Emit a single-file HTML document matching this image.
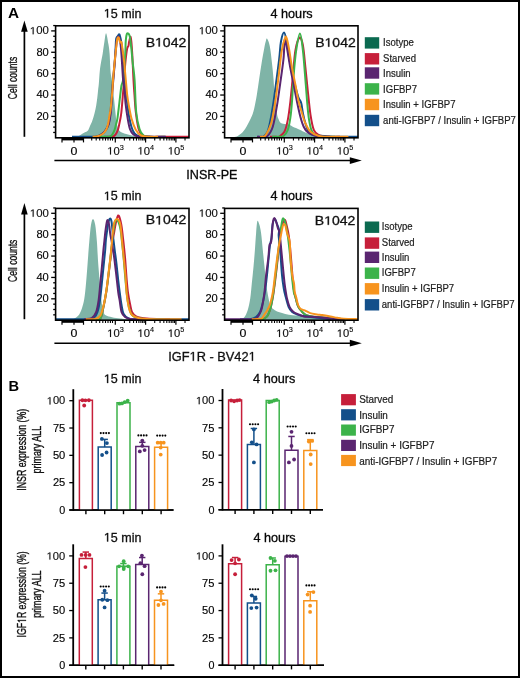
<!DOCTYPE html>
<html><head><meta charset="utf-8"><style>
html,body{margin:0;padding:0;background:#fff;}
svg{display:block;font-family:"Liberation Sans", sans-serif;will-change:transform;}
</style></head><body>
<svg width="520" height="678" viewBox="0 0 520 678">
<rect width="520" height="678" fill="#fff"/>
<rect x="1" y="1" width="518" height="676" fill="none" stroke="#000" stroke-width="2"/>
<text x="8.00" y="17.70" font-size="15.3" text-anchor="start" font-weight="bold" fill="#000">A</text>
<text x="8.60" y="390.80" font-size="15.3" text-anchor="start" font-weight="bold" fill="#000" textLength="10.6" lengthAdjust="spacingAndGlyphs">B</text>
<clipPath id="clip0"><rect x="55.6" y="25.8" width="133.4" height="112.00000000000001"/></clipPath>
<g clip-path="url(#clip0)">
<path d="M74.00,137.80 C74.87,137.47 77.82,136.47 79.20,135.80 C80.58,135.13 81.33,134.38 82.30,133.80 C83.27,133.22 84.10,132.80 85.00,132.30 C85.90,131.80 86.93,131.70 87.70,130.80 C88.47,129.90 88.83,128.57 89.60,126.90 C90.37,125.23 91.47,123.10 92.30,120.80 C93.13,118.50 93.95,115.67 94.60,113.10 C95.25,110.53 95.75,107.97 96.20,105.40 C96.65,102.83 96.98,100.27 97.30,97.70 C97.62,95.13 97.85,92.28 98.10,90.00 C98.35,87.72 98.52,87.17 98.80,84.00 C99.08,80.83 99.43,74.57 99.80,71.00 C100.17,67.43 100.52,65.53 101.00,62.60 C101.48,59.67 102.13,56.87 102.70,53.40 C103.27,49.93 103.83,45.17 104.40,41.80 C104.97,38.43 105.43,32.82 106.10,33.20 C106.77,33.58 107.82,40.73 108.40,44.10 C108.98,47.47 109.30,49.75 109.60,53.40 C109.90,57.05 110.00,62.55 110.20,66.00 C110.40,69.45 110.52,71.77 110.80,74.10 C111.08,76.43 111.58,77.68 111.90,80.00 C112.22,82.32 112.35,84.92 112.70,88.00 C113.05,91.08 113.55,94.50 114.00,98.50 C114.45,102.50 114.95,107.97 115.40,112.00 C115.85,116.03 116.03,119.57 116.70,122.70 C117.37,125.83 117.83,128.90 119.40,130.80 C120.97,132.70 123.63,133.25 126.10,134.10 C128.57,134.95 131.05,135.42 134.20,135.90 C137.35,136.38 140.70,136.72 145.00,137.00 C149.30,137.28 152.67,137.47 160.00,137.60 C167.33,137.73 184.17,137.77 189.00,137.80 L189.00,137.80 L74.00,137.80 Z" fill="#7fb4a7" stroke="none"/>
<path d="M104.00,136.80 C104.67,136.80 106.55,136.83 108.00,136.80 C109.45,136.77 111.45,136.97 112.70,136.60 C113.95,136.23 114.62,135.78 115.50,134.60 C116.38,133.42 117.25,131.85 118.00,129.50 C118.75,127.15 119.43,123.42 120.00,120.50 C120.57,117.58 120.85,117.08 121.40,112.00 C121.95,106.92 122.83,95.33 123.30,90.00 C123.77,84.67 123.92,83.92 124.20,80.00 C124.48,76.08 124.67,70.68 125.00,66.50 C125.33,62.32 125.82,57.98 126.20,54.90 C126.58,51.82 126.92,49.53 127.30,48.00 C127.68,46.47 128.20,46.73 128.50,45.70 C128.80,44.67 128.75,43.28 129.10,41.80 C129.45,40.32 130.20,36.53 130.60,36.80 C131.00,37.07 131.22,40.38 131.50,43.40 C131.78,46.42 131.97,48.80 132.30,54.90 C132.63,61.00 133.13,73.32 133.50,80.00 C133.87,86.68 134.12,89.67 134.50,95.00 C134.88,100.33 135.13,106.42 135.80,112.00 C136.47,117.58 137.38,124.63 138.50,128.50 C139.62,132.37 140.58,133.82 142.50,135.20 C144.42,136.58 146.25,136.53 150.00,136.80 C153.75,137.07 158.50,136.80 165.00,136.80 C171.50,136.80 185.00,136.80 189.00,136.80" fill="none" stroke="#c61f3a" stroke-width="2.0" stroke-linejoin="round"/>
<path d="M100.00,136.80 C100.83,136.80 103.33,136.85 105.00,136.80 C106.67,136.75 108.80,136.83 110.00,136.50 C111.20,136.17 111.45,135.85 112.20,134.80 C112.95,133.75 113.87,131.93 114.50,130.20 C115.13,128.47 115.52,126.33 116.00,124.40 C116.48,122.47 116.83,122.25 117.40,118.60 C117.97,114.95 118.73,107.93 119.40,102.50 C120.07,97.07 120.78,89.75 121.40,86.00 C122.02,82.25 122.57,83.90 123.10,80.00 C123.63,76.10 124.22,67.42 124.60,62.60 C124.98,57.78 125.20,54.82 125.40,51.10 C125.60,47.38 125.52,43.23 125.80,40.30 C126.08,37.37 126.47,34.27 127.10,33.50 C127.73,32.73 128.92,33.42 129.60,35.70 C130.28,37.98 130.68,42.72 131.20,47.20 C131.72,51.68 132.13,57.13 132.70,62.60 C133.27,68.07 134.02,71.77 134.60,80.00 C135.18,88.23 135.37,103.77 136.20,112.00 C137.03,120.23 138.37,125.48 139.60,129.40 C140.83,133.32 141.87,134.27 143.60,135.50 C145.33,136.73 146.43,136.58 150.00,136.80 C153.57,137.02 162.50,136.80 165.00,136.80" fill="none" stroke="#3cb34a" stroke-width="2.0" stroke-linejoin="round"/>
<path d="M72.00,136.80 C74.67,136.80 84.00,136.83 88.00,136.80 C92.00,136.77 93.83,136.98 96.00,136.60 C98.17,136.22 99.50,135.43 101.00,134.50 C102.50,133.57 103.75,132.75 105.00,131.00 C106.25,129.25 107.58,127.17 108.50,124.00 C109.42,120.83 109.87,118.00 110.50,112.00 C111.13,106.00 111.85,93.67 112.30,88.00 C112.75,82.33 112.80,82.33 113.20,78.00 C113.60,73.67 114.30,67.00 114.70,62.00 C115.10,57.00 115.35,51.87 115.60,48.00 C115.85,44.13 115.83,40.80 116.20,38.80 C116.57,36.80 117.27,36.72 117.80,36.00 C118.33,35.28 118.90,33.92 119.40,34.50 C119.90,35.08 120.40,37.58 120.80,39.50 C121.20,41.42 121.40,42.92 121.80,46.00 C122.20,49.08 122.75,53.67 123.20,58.00 C123.65,62.33 124.10,67.00 124.50,72.00 C124.90,77.00 125.18,83.00 125.60,88.00 C126.02,93.00 126.43,97.33 127.00,102.00 C127.57,106.67 128.25,111.83 129.00,116.00 C129.75,120.17 130.58,124.08 131.50,127.00 C132.42,129.92 133.25,131.95 134.50,133.50 C135.75,135.05 136.75,135.75 139.00,136.30 C141.25,136.85 146.17,136.72 148.00,136.80 C149.83,136.88 149.67,136.80 150.00,136.80" fill="none" stroke="#134f8a" stroke-width="2.0" stroke-linejoin="round"/>
<path d="M93.00,136.80 C93.67,136.80 95.50,137.27 97.00,136.80 C98.50,136.33 100.58,135.05 102.00,134.00 C103.42,132.95 104.37,132.17 105.50,130.50 C106.63,128.83 107.92,127.08 108.80,124.00 C109.68,120.92 110.17,118.00 110.80,112.00 C111.43,106.00 112.15,93.67 112.60,88.00 C113.05,82.33 113.13,82.33 113.50,78.00 C113.87,73.67 114.38,67.00 114.80,62.00 C115.22,57.00 115.63,51.67 116.00,48.00 C116.37,44.33 116.57,41.92 117.00,40.00 C117.43,38.08 118.03,35.93 118.60,36.50 C119.17,37.07 119.92,40.33 120.40,43.40 C120.88,46.47 121.05,48.80 121.50,54.90 C121.95,61.00 122.60,74.15 123.10,80.00 C123.60,85.85 124.08,86.00 124.50,90.00 C124.92,94.00 125.07,99.23 125.60,104.00 C126.13,108.77 126.97,114.40 127.70,118.60 C128.43,122.80 129.03,126.53 130.00,129.20 C130.97,131.87 132.17,133.37 133.50,134.60 C134.83,135.83 136.08,136.23 138.00,136.60 C139.92,136.97 141.33,136.77 145.00,136.80 C148.67,136.83 156.50,136.80 160.00,136.80 C163.50,136.80 165.00,136.80 166.00,136.80" fill="none" stroke="#5a2570" stroke-width="2.0" stroke-linejoin="round"/>
<path d="M92.60,136.80 C93.00,136.80 93.85,136.98 95.00,136.80 C96.15,136.62 98.07,136.32 99.50,135.70 C100.93,135.08 102.43,134.22 103.60,133.10 C104.77,131.98 105.73,130.63 106.50,129.00 C107.27,127.37 107.72,125.50 108.20,123.30 C108.68,121.10 109.02,118.02 109.40,115.80 C109.78,113.58 110.17,112.47 110.50,110.00 C110.83,107.53 111.10,104.00 111.40,101.00 C111.70,98.00 112.02,95.70 112.30,92.00 C112.58,88.30 112.72,83.70 113.10,78.80 C113.48,73.90 114.08,67.87 114.60,62.60 C115.12,57.33 115.75,51.17 116.20,47.20 C116.65,43.23 116.87,40.40 117.30,38.80 C117.73,37.20 118.35,37.03 118.80,37.60 C119.25,38.17 119.55,41.43 120.00,42.20 C120.45,42.97 121.05,40.72 121.50,42.20 C121.95,43.68 122.25,47.70 122.70,51.10 C123.15,54.50 123.68,57.78 124.20,62.60 C124.72,67.42 125.30,74.60 125.80,80.00 C126.30,85.40 126.70,90.80 127.20,95.00 C127.70,99.20 128.08,101.27 128.80,105.20 C129.52,109.13 130.37,114.57 131.50,118.60 C132.63,122.63 134.02,126.58 135.60,129.40 C137.18,132.22 138.60,134.27 141.00,135.50 C143.40,136.73 147.17,136.58 150.00,136.80 C152.83,137.02 156.67,136.80 158.00,136.80" fill="none" stroke="#f7941e" stroke-width="2.0" stroke-linejoin="round"/>
</g>
<rect x="55.60" y="25.80" width="133.40" height="112.00" fill="none" stroke="#000" stroke-width="1.6"/>
<line x1="53.20" y1="132.46" x2="55.60" y2="132.46" stroke="#000" stroke-width="1.3"/>
<line x1="53.20" y1="127.11" x2="55.60" y2="127.11" stroke="#000" stroke-width="1.3"/>
<line x1="53.20" y1="121.77" x2="55.60" y2="121.77" stroke="#000" stroke-width="1.3"/>
<line x1="51.20" y1="116.42" x2="55.60" y2="116.42" stroke="#000" stroke-width="1.3"/>
<text x="48.80" y="119.82" font-size="10.3" text-anchor="end" stroke="#111" stroke-width="0.15" textLength="12.4" lengthAdjust="spacingAndGlyphs">20</text>
<line x1="53.20" y1="111.08" x2="55.60" y2="111.08" stroke="#000" stroke-width="1.3"/>
<line x1="53.20" y1="105.73" x2="55.60" y2="105.73" stroke="#000" stroke-width="1.3"/>
<line x1="53.20" y1="100.39" x2="55.60" y2="100.39" stroke="#000" stroke-width="1.3"/>
<line x1="51.20" y1="95.04" x2="55.60" y2="95.04" stroke="#000" stroke-width="1.3"/>
<text x="48.80" y="98.44" font-size="10.3" text-anchor="end" stroke="#111" stroke-width="0.15" textLength="12.4" lengthAdjust="spacingAndGlyphs">40</text>
<line x1="53.20" y1="89.70" x2="55.60" y2="89.70" stroke="#000" stroke-width="1.3"/>
<line x1="53.20" y1="84.35" x2="55.60" y2="84.35" stroke="#000" stroke-width="1.3"/>
<line x1="53.20" y1="79.01" x2="55.60" y2="79.01" stroke="#000" stroke-width="1.3"/>
<line x1="51.20" y1="73.66" x2="55.60" y2="73.66" stroke="#000" stroke-width="1.3"/>
<text x="48.80" y="77.06" font-size="10.3" text-anchor="end" stroke="#111" stroke-width="0.15" textLength="12.4" lengthAdjust="spacingAndGlyphs">60</text>
<line x1="53.20" y1="68.32" x2="55.60" y2="68.32" stroke="#000" stroke-width="1.3"/>
<line x1="53.20" y1="62.97" x2="55.60" y2="62.97" stroke="#000" stroke-width="1.3"/>
<line x1="53.20" y1="57.63" x2="55.60" y2="57.63" stroke="#000" stroke-width="1.3"/>
<line x1="51.20" y1="52.28" x2="55.60" y2="52.28" stroke="#000" stroke-width="1.3"/>
<text x="48.80" y="55.68" font-size="10.3" text-anchor="end" stroke="#111" stroke-width="0.15" textLength="12.4" lengthAdjust="spacingAndGlyphs">80</text>
<line x1="53.20" y1="46.94" x2="55.60" y2="46.94" stroke="#000" stroke-width="1.3"/>
<line x1="53.20" y1="41.59" x2="55.60" y2="41.59" stroke="#000" stroke-width="1.3"/>
<line x1="53.20" y1="36.25" x2="55.60" y2="36.25" stroke="#000" stroke-width="1.3"/>
<line x1="51.20" y1="30.90" x2="55.60" y2="30.90" stroke="#000" stroke-width="1.3"/>
<g transform="translate(29.80,34.30) scale(1.1056,1)" fill="#111" stroke="#111" stroke-width="0.15"><path transform="translate(0.00,0) scale(0.00503,-0.00503)" d="M515,0H696V1409H530L197,1180V1010L515,1237Z" stroke-width="29.8"/><text x="5.73" y="0" font-size="10.3">00</text></g>
<line x1="53.20" y1="25.56" x2="55.60" y2="25.56" stroke="#000" stroke-width="1.3"/>
<rect x="62.00" y="137.80" width="22.00" height="2.60" fill="#000"/>
<line x1="62.00" y1="137.80" x2="62.00" y2="142.40" stroke="#000" stroke-width="1.2"/>
<line x1="74.00" y1="137.80" x2="74.00" y2="142.40" stroke="#000" stroke-width="1.2"/>
<line x1="83.50" y1="137.80" x2="83.50" y2="142.40" stroke="#000" stroke-width="1.2"/>
<line x1="91.70" y1="137.80" x2="91.70" y2="140.60" stroke="#000" stroke-width="1.1"/>
<line x1="96.20" y1="137.80" x2="96.20" y2="140.60" stroke="#000" stroke-width="1.1"/>
<line x1="99.70" y1="137.80" x2="99.70" y2="140.60" stroke="#000" stroke-width="1.1"/>
<line x1="102.80" y1="137.80" x2="102.80" y2="140.60" stroke="#000" stroke-width="1.1"/>
<line x1="105.50" y1="137.80" x2="105.50" y2="140.60" stroke="#000" stroke-width="1.1"/>
<line x1="108.00" y1="137.80" x2="108.00" y2="140.60" stroke="#000" stroke-width="1.1"/>
<line x1="110.40" y1="137.80" x2="110.40" y2="140.60" stroke="#000" stroke-width="1.1"/>
<line x1="112.50" y1="137.80" x2="112.50" y2="140.60" stroke="#000" stroke-width="1.1"/>
<line x1="115.30" y1="137.80" x2="115.30" y2="142.40" stroke="#000" stroke-width="1.2"/>
<line x1="124.42" y1="137.80" x2="124.42" y2="140.60" stroke="#000" stroke-width="1.1"/>
<line x1="129.76" y1="137.80" x2="129.76" y2="140.60" stroke="#000" stroke-width="1.1"/>
<line x1="133.54" y1="137.80" x2="133.54" y2="140.60" stroke="#000" stroke-width="1.1"/>
<line x1="136.48" y1="137.80" x2="136.48" y2="140.60" stroke="#000" stroke-width="1.1"/>
<line x1="138.88" y1="137.80" x2="138.88" y2="140.60" stroke="#000" stroke-width="1.1"/>
<line x1="140.91" y1="137.80" x2="140.91" y2="140.60" stroke="#000" stroke-width="1.1"/>
<line x1="142.66" y1="137.80" x2="142.66" y2="140.60" stroke="#000" stroke-width="1.1"/>
<line x1="144.21" y1="137.80" x2="144.21" y2="140.60" stroke="#000" stroke-width="1.1"/>
<line x1="145.60" y1="137.80" x2="145.60" y2="142.40" stroke="#000" stroke-width="1.2"/>
<line x1="154.72" y1="137.80" x2="154.72" y2="140.60" stroke="#000" stroke-width="1.1"/>
<line x1="160.06" y1="137.80" x2="160.06" y2="140.60" stroke="#000" stroke-width="1.1"/>
<line x1="163.84" y1="137.80" x2="163.84" y2="140.60" stroke="#000" stroke-width="1.1"/>
<line x1="166.78" y1="137.80" x2="166.78" y2="140.60" stroke="#000" stroke-width="1.1"/>
<line x1="169.18" y1="137.80" x2="169.18" y2="140.60" stroke="#000" stroke-width="1.1"/>
<line x1="171.21" y1="137.80" x2="171.21" y2="140.60" stroke="#000" stroke-width="1.1"/>
<line x1="172.96" y1="137.80" x2="172.96" y2="140.60" stroke="#000" stroke-width="1.1"/>
<line x1="174.51" y1="137.80" x2="174.51" y2="140.60" stroke="#000" stroke-width="1.1"/>
<line x1="175.90" y1="137.80" x2="175.90" y2="142.40" stroke="#000" stroke-width="1.2"/>
<line x1="185.02" y1="137.80" x2="185.02" y2="140.60" stroke="#000" stroke-width="1.1"/>
<text x="73.90" y="155.00" font-size="10.4" text-anchor="middle" stroke="#111" stroke-width="0.15" textLength="6.9" lengthAdjust="spacingAndGlyphs">0</text>
<g transform="translate(107.20,154.50) scale(1.0602,1)" fill="#111" stroke="#111" stroke-width="0.15"><path transform="translate(0.00,0) scale(0.00518,-0.00518)" d="M515,0H696V1409H530L197,1180V1010L515,1237Z" stroke-width="29.0"/><text x="5.90" y="0" font-size="10.6">0</text></g>
<text x="119.70" y="149.80" font-size="7.3" stroke="#111" stroke-width="0.1">3</text>
<g transform="translate(137.50,154.50) scale(1.0602,1)" fill="#111" stroke="#111" stroke-width="0.15"><path transform="translate(0.00,0) scale(0.00518,-0.00518)" d="M515,0H696V1409H530L197,1180V1010L515,1237Z" stroke-width="29.0"/><text x="5.90" y="0" font-size="10.6">0</text></g>
<text x="150.00" y="149.80" font-size="7.3" stroke="#111" stroke-width="0.1">4</text>
<g transform="translate(167.80,154.50) scale(1.0602,1)" fill="#111" stroke="#111" stroke-width="0.15"><path transform="translate(0.00,0) scale(0.00518,-0.00518)" d="M515,0H696V1409H530L197,1180V1010L515,1237Z" stroke-width="29.0"/><text x="5.90" y="0" font-size="10.6">0</text></g>
<text x="180.30" y="149.80" font-size="7.3" stroke="#111" stroke-width="0.1">5</text>
<g transform="translate(103.80,17.50) scale(1.0268,1)" fill="#111" stroke="#111" stroke-width="0.3"><path transform="translate(0.00,0) scale(0.00596,-0.00596)" d="M515,0H696V1409H530L197,1180V1010L515,1237Z" stroke-width="50.4"/><text x="6.79" y="0" font-size="12.2">5 min</text></g>
<g transform="translate(145.70,46.50) scale(1.1509,1)" fill="#111" stroke="#111" stroke-width="0.3"><text x="0.00" y="0" font-size="12.2">B</text><path transform="translate(8.14,0) scale(0.00596,-0.00596)" d="M515,0H696V1409H530L197,1180V1010L515,1237Z" stroke-width="50.4"/><text x="14.92" y="0" font-size="12.2">042</text></g>
<line x1="24.40" y1="136.80" x2="24.40" y2="29.80" stroke="#000" stroke-width="1.7"/>
<path d="M21.10,31.80 L24.40,20.40 L27.70,31.80 Z" fill="#000"/>
<text transform="translate(17.3,78.00) rotate(-90)" font-size="12.4" text-anchor="middle" textLength="42.4" lengthAdjust="spacingAndGlyphs" fill="#111" stroke="#111" stroke-width="0.3">Cell counts</text>
<clipPath id="clip1"><rect x="224.6" y="25.8" width="133.4" height="112.00000000000001"/></clipPath>
<g clip-path="url(#clip1)">
<path d="M226.00,137.80 C227.17,137.72 230.98,137.63 233.00,137.30 C235.02,136.97 236.30,136.88 238.10,135.80 C239.90,134.72 241.90,133.27 243.80,130.80 C245.70,128.33 247.88,124.27 249.50,121.00 C251.12,117.73 252.28,115.55 253.50,111.20 C254.72,106.85 255.85,100.32 256.80,94.90 C257.75,89.48 258.38,84.10 259.20,78.70 C260.02,73.30 260.85,67.62 261.70,62.50 C262.55,57.38 263.65,51.42 264.30,48.00 C264.95,44.58 265.15,43.57 265.60,42.00 C266.05,40.43 266.30,37.90 267.00,38.60 C267.70,39.30 268.98,42.22 269.80,46.20 C270.62,50.18 271.28,57.08 271.90,62.50 C272.52,67.92 273.05,73.30 273.50,78.70 C273.95,84.10 274.13,90.03 274.60,94.90 C275.07,99.77 275.88,104.65 276.30,107.90 C276.72,111.15 276.77,112.63 277.10,114.40 C277.43,116.17 277.77,117.15 278.30,118.50 C278.83,119.85 279.52,121.62 280.30,122.50 C281.08,123.38 281.48,123.42 283.00,123.80 C284.52,124.18 287.77,124.32 289.40,124.80 C291.03,125.28 291.70,126.17 292.80,126.70 C293.90,127.23 294.75,127.43 296.00,128.00 C297.25,128.57 298.73,129.33 300.30,130.10 C301.87,130.87 303.13,131.75 305.40,132.60 C307.67,133.45 310.80,134.55 313.90,135.20 C317.00,135.85 319.65,136.13 324.00,136.50 C328.35,136.87 334.33,137.18 340.00,137.40 C345.67,137.62 355.00,137.73 358.00,137.80 L358.00,137.80 L226.00,137.80 Z" fill="#7fb4a7" stroke="none"/>
<path d="M270.00,136.80 C271.00,136.80 274.45,136.85 276.00,136.80 C277.55,136.75 277.90,137.33 279.30,136.50 C280.70,135.67 282.98,134.57 284.40,131.80 C285.82,129.03 286.80,124.98 287.80,119.90 C288.80,114.82 289.55,108.65 290.40,101.30 C291.25,93.95 292.07,84.28 292.90,75.80 C293.73,67.32 294.28,56.75 295.40,50.40 C296.52,44.05 298.35,38.55 299.60,37.70 C300.85,36.85 301.93,40.35 302.90,45.30 C303.87,50.25 304.55,59.48 305.40,67.40 C306.25,75.32 307.15,84.90 308.00,92.80 C308.85,100.70 309.52,108.58 310.50,114.80 C311.48,121.02 312.48,126.70 313.90,130.10 C315.32,133.50 316.65,134.08 319.00,135.20 C321.35,136.32 324.50,136.53 328.00,136.80 C331.50,137.07 338.00,136.80 340.00,136.80" fill="none" stroke="#c61f3a" stroke-width="2.0" stroke-linejoin="round"/>
<path d="M272.00,136.80 C273.00,136.80 276.08,136.93 278.00,136.80 C279.92,136.67 281.88,137.12 283.50,136.00 C285.12,134.88 286.57,133.07 287.70,130.10 C288.83,127.13 289.58,123.00 290.30,118.20 C291.02,113.40 291.45,108.37 292.00,101.30 C292.55,94.23 292.90,84.28 293.60,75.80 C294.30,67.32 295.13,57.45 296.20,50.40 C297.27,43.35 298.88,33.50 300.00,33.50 C301.12,33.50 302.05,43.35 302.90,50.40 C303.75,57.45 304.40,67.32 305.10,75.80 C305.80,84.28 306.48,94.23 307.10,101.30 C307.72,108.37 308.08,113.40 308.80,118.20 C309.52,123.00 310.27,127.27 311.40,130.10 C312.53,132.93 313.50,134.08 315.60,135.20 C317.70,136.32 320.77,136.53 324.00,136.80 C327.23,137.07 333.17,136.80 335.00,136.80" fill="none" stroke="#3cb34a" stroke-width="2.0" stroke-linejoin="round"/>
<path d="M258.00,136.80 C258.07,136.80 257.56,136.80 258.42,136.80 C259.28,136.80 261.62,137.63 263.14,136.80 C264.65,135.97 266.28,134.62 267.51,131.80 C268.74,128.98 269.48,124.98 270.50,119.90 C271.52,114.82 272.72,107.23 273.62,101.30 C274.52,95.37 274.96,91.37 275.89,84.30 C276.82,77.23 278.37,65.95 279.20,58.90 C280.03,51.85 280.10,46.38 280.90,42.00 C281.70,37.62 283.02,32.60 284.00,32.60 C284.98,32.60 285.92,37.62 286.80,42.00 C287.68,46.38 288.32,53.27 289.30,58.90 C290.28,64.53 291.57,70.72 292.70,75.80 C293.83,80.88 295.12,85.72 296.10,89.40 C297.08,93.08 297.75,95.63 298.60,97.90 C299.45,100.17 300.48,100.47 301.20,103.00 C301.92,105.53 302.20,109.72 302.90,113.10 C303.60,116.48 304.42,120.18 305.40,123.30 C306.38,126.42 307.38,129.82 308.80,131.80 C310.22,133.78 311.37,134.50 313.90,135.20 C316.43,135.90 319.77,135.73 324.00,136.00 C328.23,136.27 333.63,136.67 339.30,136.80 C344.97,136.93 354.88,136.80 358.00,136.80" fill="none" stroke="#134f8a" stroke-width="2.0" stroke-linejoin="round"/>
<path d="M257.00,136.80 C257.17,136.80 257.26,136.80 258.00,136.80 C258.74,136.80 259.87,136.93 261.43,136.80 C262.99,136.67 265.48,137.68 267.37,136.00 C269.26,134.32 271.20,131.63 272.78,126.70 C274.36,121.77 275.63,113.47 276.85,106.40 C278.07,99.33 278.98,92.22 280.09,84.30 C281.20,76.38 282.73,66.28 283.50,58.90 C284.27,51.52 284.15,41.98 284.70,40.00 C285.25,38.02 285.88,42.43 286.80,47.00 C287.72,51.57 289.07,61.18 290.20,67.40 C291.33,73.62 292.48,78.65 293.60,84.30 C294.72,89.95 295.78,95.93 296.90,101.30 C298.02,106.67 299.17,112.27 300.30,116.50 C301.43,120.73 302.42,124.02 303.70,126.70 C304.98,129.38 306.30,131.18 308.00,132.60 C309.70,134.02 311.57,134.52 313.90,135.20 C316.23,135.88 319.32,136.43 322.00,136.70 C324.68,136.97 328.67,136.78 330.00,136.80" fill="none" stroke="#5a2570" stroke-width="2.0" stroke-linejoin="round"/>
<path d="M260.00,136.80 C260.38,136.80 261.35,137.07 262.30,136.80 C263.25,136.53 264.21,137.45 265.69,135.20 C267.17,132.95 269.58,128.95 271.19,123.30 C272.80,117.65 274.07,109.22 275.32,101.30 C276.57,93.38 277.59,84.28 278.67,75.80 C279.75,67.32 280.71,56.75 281.80,50.40 C282.89,44.05 284.37,39.67 285.20,37.70 C286.03,35.73 286.12,36.48 286.80,38.60 C287.48,40.72 288.45,45.60 289.30,50.40 C290.15,55.20 290.90,61.75 291.90,67.40 C292.90,73.05 294.18,78.65 295.30,84.30 C296.42,89.95 297.48,96.50 298.60,101.30 C299.72,106.10 300.87,109.43 302.00,113.10 C303.13,116.77 303.98,120.18 305.40,123.30 C306.82,126.42 308.23,129.68 310.50,131.80 C312.77,133.92 315.62,135.17 319.00,136.00 C322.38,136.83 326.28,136.67 330.80,136.80 C335.32,136.93 343.40,136.80 346.10,136.80 C348.80,136.80 346.85,136.80 347.00,136.80" fill="none" stroke="#f7941e" stroke-width="2.0" stroke-linejoin="round"/>
</g>
<rect x="224.60" y="25.80" width="133.40" height="112.00" fill="none" stroke="#000" stroke-width="1.6"/>
<line x1="222.20" y1="132.46" x2="224.60" y2="132.46" stroke="#000" stroke-width="1.3"/>
<line x1="222.20" y1="127.11" x2="224.60" y2="127.11" stroke="#000" stroke-width="1.3"/>
<line x1="222.20" y1="121.77" x2="224.60" y2="121.77" stroke="#000" stroke-width="1.3"/>
<line x1="220.20" y1="116.42" x2="224.60" y2="116.42" stroke="#000" stroke-width="1.3"/>
<text x="217.80" y="119.82" font-size="10.3" text-anchor="end" stroke="#111" stroke-width="0.15" textLength="12.4" lengthAdjust="spacingAndGlyphs">20</text>
<line x1="222.20" y1="111.08" x2="224.60" y2="111.08" stroke="#000" stroke-width="1.3"/>
<line x1="222.20" y1="105.73" x2="224.60" y2="105.73" stroke="#000" stroke-width="1.3"/>
<line x1="222.20" y1="100.39" x2="224.60" y2="100.39" stroke="#000" stroke-width="1.3"/>
<line x1="220.20" y1="95.04" x2="224.60" y2="95.04" stroke="#000" stroke-width="1.3"/>
<text x="217.80" y="98.44" font-size="10.3" text-anchor="end" stroke="#111" stroke-width="0.15" textLength="12.4" lengthAdjust="spacingAndGlyphs">40</text>
<line x1="222.20" y1="89.70" x2="224.60" y2="89.70" stroke="#000" stroke-width="1.3"/>
<line x1="222.20" y1="84.35" x2="224.60" y2="84.35" stroke="#000" stroke-width="1.3"/>
<line x1="222.20" y1="79.01" x2="224.60" y2="79.01" stroke="#000" stroke-width="1.3"/>
<line x1="220.20" y1="73.66" x2="224.60" y2="73.66" stroke="#000" stroke-width="1.3"/>
<text x="217.80" y="77.06" font-size="10.3" text-anchor="end" stroke="#111" stroke-width="0.15" textLength="12.4" lengthAdjust="spacingAndGlyphs">60</text>
<line x1="222.20" y1="68.32" x2="224.60" y2="68.32" stroke="#000" stroke-width="1.3"/>
<line x1="222.20" y1="62.97" x2="224.60" y2="62.97" stroke="#000" stroke-width="1.3"/>
<line x1="222.20" y1="57.63" x2="224.60" y2="57.63" stroke="#000" stroke-width="1.3"/>
<line x1="220.20" y1="52.28" x2="224.60" y2="52.28" stroke="#000" stroke-width="1.3"/>
<text x="217.80" y="55.68" font-size="10.3" text-anchor="end" stroke="#111" stroke-width="0.15" textLength="12.4" lengthAdjust="spacingAndGlyphs">80</text>
<line x1="222.20" y1="46.94" x2="224.60" y2="46.94" stroke="#000" stroke-width="1.3"/>
<line x1="222.20" y1="41.59" x2="224.60" y2="41.59" stroke="#000" stroke-width="1.3"/>
<line x1="222.20" y1="36.25" x2="224.60" y2="36.25" stroke="#000" stroke-width="1.3"/>
<line x1="220.20" y1="30.90" x2="224.60" y2="30.90" stroke="#000" stroke-width="1.3"/>
<g transform="translate(198.80,34.30) scale(1.1056,1)" fill="#111" stroke="#111" stroke-width="0.15"><path transform="translate(0.00,0) scale(0.00503,-0.00503)" d="M515,0H696V1409H530L197,1180V1010L515,1237Z" stroke-width="29.8"/><text x="5.73" y="0" font-size="10.3">00</text></g>
<line x1="222.20" y1="25.56" x2="224.60" y2="25.56" stroke="#000" stroke-width="1.3"/>
<rect x="231.00" y="137.80" width="22.00" height="2.60" fill="#000"/>
<line x1="231.00" y1="137.80" x2="231.00" y2="142.40" stroke="#000" stroke-width="1.2"/>
<line x1="243.00" y1="137.80" x2="243.00" y2="142.40" stroke="#000" stroke-width="1.2"/>
<line x1="252.50" y1="137.80" x2="252.50" y2="142.40" stroke="#000" stroke-width="1.2"/>
<line x1="260.70" y1="137.80" x2="260.70" y2="140.60" stroke="#000" stroke-width="1.1"/>
<line x1="265.20" y1="137.80" x2="265.20" y2="140.60" stroke="#000" stroke-width="1.1"/>
<line x1="268.70" y1="137.80" x2="268.70" y2="140.60" stroke="#000" stroke-width="1.1"/>
<line x1="271.80" y1="137.80" x2="271.80" y2="140.60" stroke="#000" stroke-width="1.1"/>
<line x1="274.50" y1="137.80" x2="274.50" y2="140.60" stroke="#000" stroke-width="1.1"/>
<line x1="277.00" y1="137.80" x2="277.00" y2="140.60" stroke="#000" stroke-width="1.1"/>
<line x1="279.40" y1="137.80" x2="279.40" y2="140.60" stroke="#000" stroke-width="1.1"/>
<line x1="281.50" y1="137.80" x2="281.50" y2="140.60" stroke="#000" stroke-width="1.1"/>
<line x1="284.30" y1="137.80" x2="284.30" y2="142.40" stroke="#000" stroke-width="1.2"/>
<line x1="293.42" y1="137.80" x2="293.42" y2="140.60" stroke="#000" stroke-width="1.1"/>
<line x1="298.76" y1="137.80" x2="298.76" y2="140.60" stroke="#000" stroke-width="1.1"/>
<line x1="302.54" y1="137.80" x2="302.54" y2="140.60" stroke="#000" stroke-width="1.1"/>
<line x1="305.48" y1="137.80" x2="305.48" y2="140.60" stroke="#000" stroke-width="1.1"/>
<line x1="307.88" y1="137.80" x2="307.88" y2="140.60" stroke="#000" stroke-width="1.1"/>
<line x1="309.91" y1="137.80" x2="309.91" y2="140.60" stroke="#000" stroke-width="1.1"/>
<line x1="311.66" y1="137.80" x2="311.66" y2="140.60" stroke="#000" stroke-width="1.1"/>
<line x1="313.21" y1="137.80" x2="313.21" y2="140.60" stroke="#000" stroke-width="1.1"/>
<line x1="314.60" y1="137.80" x2="314.60" y2="142.40" stroke="#000" stroke-width="1.2"/>
<line x1="323.72" y1="137.80" x2="323.72" y2="140.60" stroke="#000" stroke-width="1.1"/>
<line x1="329.06" y1="137.80" x2="329.06" y2="140.60" stroke="#000" stroke-width="1.1"/>
<line x1="332.84" y1="137.80" x2="332.84" y2="140.60" stroke="#000" stroke-width="1.1"/>
<line x1="335.78" y1="137.80" x2="335.78" y2="140.60" stroke="#000" stroke-width="1.1"/>
<line x1="338.18" y1="137.80" x2="338.18" y2="140.60" stroke="#000" stroke-width="1.1"/>
<line x1="340.21" y1="137.80" x2="340.21" y2="140.60" stroke="#000" stroke-width="1.1"/>
<line x1="341.96" y1="137.80" x2="341.96" y2="140.60" stroke="#000" stroke-width="1.1"/>
<line x1="343.51" y1="137.80" x2="343.51" y2="140.60" stroke="#000" stroke-width="1.1"/>
<line x1="344.90" y1="137.80" x2="344.90" y2="142.40" stroke="#000" stroke-width="1.2"/>
<line x1="354.02" y1="137.80" x2="354.02" y2="140.60" stroke="#000" stroke-width="1.1"/>
<text x="242.90" y="155.00" font-size="10.4" text-anchor="middle" stroke="#111" stroke-width="0.15" textLength="6.9" lengthAdjust="spacingAndGlyphs">0</text>
<g transform="translate(276.20,154.50) scale(1.0602,1)" fill="#111" stroke="#111" stroke-width="0.15"><path transform="translate(0.00,0) scale(0.00518,-0.00518)" d="M515,0H696V1409H530L197,1180V1010L515,1237Z" stroke-width="29.0"/><text x="5.90" y="0" font-size="10.6">0</text></g>
<text x="288.70" y="149.80" font-size="7.3" stroke="#111" stroke-width="0.1">3</text>
<g transform="translate(306.50,154.50) scale(1.0602,1)" fill="#111" stroke="#111" stroke-width="0.15"><path transform="translate(0.00,0) scale(0.00518,-0.00518)" d="M515,0H696V1409H530L197,1180V1010L515,1237Z" stroke-width="29.0"/><text x="5.90" y="0" font-size="10.6">0</text></g>
<text x="319.00" y="149.80" font-size="7.3" stroke="#111" stroke-width="0.1">4</text>
<g transform="translate(336.80,154.50) scale(1.0602,1)" fill="#111" stroke="#111" stroke-width="0.15"><path transform="translate(0.00,0) scale(0.00518,-0.00518)" d="M515,0H696V1409H530L197,1180V1010L515,1237Z" stroke-width="29.0"/><text x="5.90" y="0" font-size="10.6">0</text></g>
<text x="349.30" y="149.80" font-size="7.3" stroke="#111" stroke-width="0.1">5</text>
<text x="291.60" y="17.50" font-size="12.2" text-anchor="middle" stroke="#111" stroke-width="0.3" textLength="42.2" lengthAdjust="spacingAndGlyphs">4 hours</text>
<g transform="translate(315.20,46.70) scale(1.1509,1)" fill="#111" stroke="#111" stroke-width="0.3"><text x="0.00" y="0" font-size="12.2">B</text><path transform="translate(8.14,0) scale(0.00596,-0.00596)" d="M515,0H696V1409H530L197,1180V1010L515,1237Z" stroke-width="50.4"/><text x="14.92" y="0" font-size="12.2">042</text></g>
<clipPath id="clip2"><rect x="55.6" y="208.4" width="133.4" height="111.79999999999998"/></clipPath>
<g clip-path="url(#clip2)">
<path d="M66.00,320.20 C67.23,319.98 71.33,319.67 73.40,318.90 C75.47,318.13 77.00,317.28 78.40,315.60 C79.80,313.92 80.82,311.60 81.80,308.80 C82.78,306.00 83.60,303.00 84.30,298.80 C85.00,294.60 85.45,289.48 86.00,283.60 C86.55,277.72 87.05,270.50 87.60,263.50 C88.15,256.50 88.73,248.05 89.30,241.60 C89.87,235.15 90.38,228.58 91.00,224.80 C91.62,221.02 92.30,218.90 93.00,218.90 C93.70,218.90 94.55,221.02 95.20,224.80 C95.85,228.58 96.40,235.15 96.90,241.60 C97.40,248.05 97.70,256.50 98.20,263.50 C98.70,270.50 99.33,277.17 99.90,283.60 C100.47,290.03 100.98,297.33 101.60,302.10 C102.22,306.87 102.85,309.95 103.60,312.20 C104.35,314.45 104.70,314.77 106.10,315.60 C107.50,316.43 109.62,316.70 112.00,317.20 C114.38,317.70 117.60,318.25 120.40,318.60 C123.20,318.95 123.87,319.07 128.80,319.30 C133.73,319.53 139.97,319.85 150.00,320.00 C160.03,320.15 182.50,320.17 189.00,320.20 L189.00,320.20 L66.00,320.20 Z" fill="#7fb4a7" stroke="none"/>
<path d="M96.00,319.20 C96.75,319.08 99.20,320.78 100.50,318.50 C101.80,316.22 102.83,309.92 103.80,305.50 C104.77,301.08 105.52,297.05 106.30,292.00 C107.08,286.95 107.80,280.80 108.50,275.20 C109.20,269.60 109.83,264.00 110.50,258.40 C111.17,252.80 111.88,246.00 112.50,241.60 C113.12,237.20 113.68,234.93 114.20,232.00 C114.72,229.07 115.17,226.17 115.60,224.00 C116.03,221.83 116.28,220.40 116.80,219.00 C117.32,217.60 117.95,214.63 118.70,215.60 C119.45,216.57 120.52,220.47 121.30,224.80 C122.08,229.13 122.77,236.00 123.40,241.60 C124.03,247.20 124.55,252.00 125.10,258.40 C125.65,264.80 126.20,274.15 126.70,280.00 C127.20,285.85 127.53,289.47 128.10,293.50 C128.67,297.53 129.43,301.07 130.10,304.20 C130.77,307.33 131.08,310.28 132.10,312.30 C133.12,314.32 133.73,315.28 136.20,316.30 C138.67,317.32 141.75,317.95 146.90,318.40 C152.05,318.85 163.25,318.87 167.10,319.00 C170.95,319.13 169.52,319.17 170.00,319.20" fill="none" stroke="#c61f3a" stroke-width="2.0" stroke-linejoin="round"/>
<path d="M96.00,319.20 C96.73,319.08 99.12,320.78 100.40,318.50 C101.68,316.22 102.73,309.92 103.70,305.50 C104.67,301.08 105.42,297.05 106.20,292.00 C106.98,286.95 107.70,280.80 108.40,275.20 C109.10,269.60 109.77,264.00 110.40,258.40 C111.03,252.80 111.62,246.67 112.20,241.60 C112.78,236.53 113.43,231.27 113.90,228.00 C114.37,224.73 114.62,223.37 115.00,222.00 C115.38,220.63 115.62,219.80 116.20,219.80 C116.78,219.80 117.77,220.30 118.50,222.00 C119.23,223.70 119.97,226.17 120.60,230.00 C121.23,233.83 121.77,240.00 122.30,245.00 C122.83,250.00 123.30,254.50 123.80,260.00 C124.30,265.50 124.78,272.17 125.30,278.00 C125.82,283.83 126.32,290.25 126.90,295.00 C127.48,299.75 127.95,303.17 128.80,306.50 C129.65,309.83 130.13,313.00 132.00,315.00 C133.87,317.00 135.33,317.80 140.00,318.50 C144.67,319.20 155.83,319.08 160.00,319.20 C164.17,319.32 164.17,319.20 165.00,319.20" fill="none" stroke="#3cb34a" stroke-width="2.0" stroke-linejoin="round"/>
<path d="M56.00,319.20 C61.33,319.20 81.67,319.40 88.00,319.20 C94.33,319.00 92.42,319.20 94.00,318.00 C95.58,316.80 96.50,315.00 97.50,312.00 C98.50,309.00 99.28,304.73 100.00,300.00 C100.72,295.27 101.22,289.13 101.80,283.60 C102.38,278.07 102.93,272.40 103.50,266.80 C104.07,261.20 104.82,254.33 105.20,250.00 C105.58,245.67 105.47,244.13 105.80,240.80 C106.13,237.47 106.78,232.97 107.20,230.00 C107.62,227.03 107.95,224.75 108.30,223.00 C108.65,221.25 108.95,220.23 109.30,219.50 C109.65,218.77 110.07,218.43 110.40,218.60 C110.73,218.77 111.03,219.38 111.30,220.50 C111.57,221.62 111.78,223.40 112.00,225.30 C112.22,227.20 112.38,229.70 112.60,231.90 C112.82,234.10 112.95,235.48 113.30,238.50 C113.65,241.52 114.17,245.75 114.70,250.00 C115.23,254.25 115.92,259.00 116.50,264.00 C117.08,269.00 117.65,275.17 118.20,280.00 C118.75,284.83 119.27,288.97 119.80,293.00 C120.33,297.03 120.78,300.77 121.40,304.20 C122.02,307.63 122.32,311.23 123.50,313.60 C124.68,315.97 126.83,317.47 128.50,318.40 C130.17,319.33 129.92,319.07 133.50,319.20 C137.08,319.33 140.75,319.20 150.00,319.20 C159.25,319.20 182.50,319.20 189.00,319.20" fill="none" stroke="#134f8a" stroke-width="2.0" stroke-linejoin="round"/>
<path d="M84.00,319.20 C84.18,319.20 83.80,319.38 85.10,319.20 C86.40,319.02 89.97,319.27 91.80,318.10 C93.63,316.93 94.97,315.15 96.10,312.20 C97.23,309.25 97.90,305.17 98.60,300.40 C99.30,295.63 99.75,289.20 100.30,283.60 C100.85,278.00 101.38,272.40 101.90,266.80 C102.42,261.20 102.98,254.33 103.40,250.00 C103.82,245.67 104.08,243.80 104.40,240.80 C104.72,237.80 104.98,234.63 105.30,232.00 C105.62,229.37 106.00,226.87 106.30,225.00 C106.60,223.13 106.85,221.58 107.10,220.80 C107.35,220.02 107.55,220.02 107.80,220.30 C108.05,220.58 108.33,221.47 108.60,222.50 C108.87,223.53 109.17,224.92 109.40,226.50 C109.63,228.08 109.77,230.25 110.00,232.00 C110.23,233.75 110.50,235.33 110.80,237.00 C111.10,238.67 111.43,239.83 111.80,242.00 C112.17,244.17 112.58,247.27 113.00,250.00 C113.42,252.73 113.75,254.20 114.30,258.40 C114.85,262.60 115.65,269.60 116.30,275.20 C116.95,280.80 117.65,287.83 118.20,292.00 C118.75,296.17 119.03,296.82 119.60,300.20 C120.17,303.58 120.70,309.50 121.60,312.30 C122.50,315.10 123.47,315.88 125.00,317.00 C126.53,318.12 127.47,318.63 130.80,319.00 C134.13,319.37 141.80,319.17 145.00,319.20 C148.20,319.23 149.17,319.20 150.00,319.20" fill="none" stroke="#5a2570" stroke-width="2.0" stroke-linejoin="round"/>
<path d="M86.00,319.20 C86.13,319.20 85.27,319.25 86.80,319.20 C88.33,319.15 92.95,319.50 95.20,318.90 C97.45,318.30 98.90,317.83 100.30,315.60 C101.70,313.37 102.63,309.43 103.60,305.50 C104.57,301.57 105.32,297.05 106.10,292.00 C106.88,286.95 107.60,280.80 108.30,275.20 C109.00,269.60 109.68,264.00 110.30,258.40 C110.92,252.80 111.43,247.20 112.00,241.60 C112.57,236.00 113.12,228.40 113.70,224.80 C114.28,221.20 114.93,220.98 115.50,220.00 C116.07,219.02 116.60,218.90 117.10,218.90 C117.60,218.90 117.95,219.02 118.50,220.00 C119.05,220.98 119.80,221.20 120.40,224.80 C121.00,228.40 121.53,236.00 122.10,241.60 C122.67,247.20 123.25,252.83 123.80,258.40 C124.35,263.97 124.92,269.15 125.40,275.00 C125.88,280.85 126.15,288.18 126.70,293.50 C127.25,298.82 127.80,303.32 128.70,306.90 C129.60,310.48 130.18,313.08 132.10,315.00 C134.02,316.92 135.48,317.70 140.20,318.40 C144.92,319.10 153.90,319.07 160.40,319.20 C166.90,319.33 175.93,319.20 179.20,319.20 C182.47,319.20 179.87,319.20 180.00,319.20" fill="none" stroke="#f7941e" stroke-width="2.0" stroke-linejoin="round"/>
</g>
<rect x="55.60" y="208.40" width="133.40" height="111.80" fill="none" stroke="#000" stroke-width="1.6"/>
<line x1="53.20" y1="314.85" x2="55.60" y2="314.85" stroke="#000" stroke-width="1.3"/>
<line x1="53.20" y1="309.51" x2="55.60" y2="309.51" stroke="#000" stroke-width="1.3"/>
<line x1="53.20" y1="304.16" x2="55.60" y2="304.16" stroke="#000" stroke-width="1.3"/>
<line x1="51.20" y1="298.82" x2="55.60" y2="298.82" stroke="#000" stroke-width="1.3"/>
<text x="48.80" y="302.22" font-size="10.3" text-anchor="end" stroke="#111" stroke-width="0.15" textLength="12.4" lengthAdjust="spacingAndGlyphs">20</text>
<line x1="53.20" y1="293.47" x2="55.60" y2="293.47" stroke="#000" stroke-width="1.3"/>
<line x1="53.20" y1="288.13" x2="55.60" y2="288.13" stroke="#000" stroke-width="1.3"/>
<line x1="53.20" y1="282.78" x2="55.60" y2="282.78" stroke="#000" stroke-width="1.3"/>
<line x1="51.20" y1="277.44" x2="55.60" y2="277.44" stroke="#000" stroke-width="1.3"/>
<text x="48.80" y="280.84" font-size="10.3" text-anchor="end" stroke="#111" stroke-width="0.15" textLength="12.4" lengthAdjust="spacingAndGlyphs">40</text>
<line x1="53.20" y1="272.09" x2="55.60" y2="272.09" stroke="#000" stroke-width="1.3"/>
<line x1="53.20" y1="266.75" x2="55.60" y2="266.75" stroke="#000" stroke-width="1.3"/>
<line x1="53.20" y1="261.40" x2="55.60" y2="261.40" stroke="#000" stroke-width="1.3"/>
<line x1="51.20" y1="256.06" x2="55.60" y2="256.06" stroke="#000" stroke-width="1.3"/>
<text x="48.80" y="259.46" font-size="10.3" text-anchor="end" stroke="#111" stroke-width="0.15" textLength="12.4" lengthAdjust="spacingAndGlyphs">60</text>
<line x1="53.20" y1="250.71" x2="55.60" y2="250.71" stroke="#000" stroke-width="1.3"/>
<line x1="53.20" y1="245.37" x2="55.60" y2="245.37" stroke="#000" stroke-width="1.3"/>
<line x1="53.20" y1="240.02" x2="55.60" y2="240.02" stroke="#000" stroke-width="1.3"/>
<line x1="51.20" y1="234.68" x2="55.60" y2="234.68" stroke="#000" stroke-width="1.3"/>
<text x="48.80" y="238.08" font-size="10.3" text-anchor="end" stroke="#111" stroke-width="0.15" textLength="12.4" lengthAdjust="spacingAndGlyphs">80</text>
<line x1="53.20" y1="229.33" x2="55.60" y2="229.33" stroke="#000" stroke-width="1.3"/>
<line x1="53.20" y1="223.99" x2="55.60" y2="223.99" stroke="#000" stroke-width="1.3"/>
<line x1="53.20" y1="218.64" x2="55.60" y2="218.64" stroke="#000" stroke-width="1.3"/>
<line x1="51.20" y1="213.30" x2="55.60" y2="213.30" stroke="#000" stroke-width="1.3"/>
<g transform="translate(29.80,216.70) scale(1.1056,1)" fill="#111" stroke="#111" stroke-width="0.15"><path transform="translate(0.00,0) scale(0.00503,-0.00503)" d="M515,0H696V1409H530L197,1180V1010L515,1237Z" stroke-width="29.8"/><text x="5.73" y="0" font-size="10.3">00</text></g>
<line x1="53.20" y1="207.95" x2="55.60" y2="207.95" stroke="#000" stroke-width="1.3"/>
<rect x="62.00" y="320.20" width="22.00" height="2.60" fill="#000"/>
<line x1="62.00" y1="320.20" x2="62.00" y2="324.80" stroke="#000" stroke-width="1.2"/>
<line x1="74.00" y1="320.20" x2="74.00" y2="324.80" stroke="#000" stroke-width="1.2"/>
<line x1="83.50" y1="320.20" x2="83.50" y2="324.80" stroke="#000" stroke-width="1.2"/>
<line x1="91.70" y1="320.20" x2="91.70" y2="323.00" stroke="#000" stroke-width="1.1"/>
<line x1="96.20" y1="320.20" x2="96.20" y2="323.00" stroke="#000" stroke-width="1.1"/>
<line x1="99.70" y1="320.20" x2="99.70" y2="323.00" stroke="#000" stroke-width="1.1"/>
<line x1="102.80" y1="320.20" x2="102.80" y2="323.00" stroke="#000" stroke-width="1.1"/>
<line x1="105.50" y1="320.20" x2="105.50" y2="323.00" stroke="#000" stroke-width="1.1"/>
<line x1="108.00" y1="320.20" x2="108.00" y2="323.00" stroke="#000" stroke-width="1.1"/>
<line x1="110.40" y1="320.20" x2="110.40" y2="323.00" stroke="#000" stroke-width="1.1"/>
<line x1="112.50" y1="320.20" x2="112.50" y2="323.00" stroke="#000" stroke-width="1.1"/>
<line x1="115.30" y1="320.20" x2="115.30" y2="324.80" stroke="#000" stroke-width="1.2"/>
<line x1="124.42" y1="320.20" x2="124.42" y2="323.00" stroke="#000" stroke-width="1.1"/>
<line x1="129.76" y1="320.20" x2="129.76" y2="323.00" stroke="#000" stroke-width="1.1"/>
<line x1="133.54" y1="320.20" x2="133.54" y2="323.00" stroke="#000" stroke-width="1.1"/>
<line x1="136.48" y1="320.20" x2="136.48" y2="323.00" stroke="#000" stroke-width="1.1"/>
<line x1="138.88" y1="320.20" x2="138.88" y2="323.00" stroke="#000" stroke-width="1.1"/>
<line x1="140.91" y1="320.20" x2="140.91" y2="323.00" stroke="#000" stroke-width="1.1"/>
<line x1="142.66" y1="320.20" x2="142.66" y2="323.00" stroke="#000" stroke-width="1.1"/>
<line x1="144.21" y1="320.20" x2="144.21" y2="323.00" stroke="#000" stroke-width="1.1"/>
<line x1="145.60" y1="320.20" x2="145.60" y2="324.80" stroke="#000" stroke-width="1.2"/>
<line x1="154.72" y1="320.20" x2="154.72" y2="323.00" stroke="#000" stroke-width="1.1"/>
<line x1="160.06" y1="320.20" x2="160.06" y2="323.00" stroke="#000" stroke-width="1.1"/>
<line x1="163.84" y1="320.20" x2="163.84" y2="323.00" stroke="#000" stroke-width="1.1"/>
<line x1="166.78" y1="320.20" x2="166.78" y2="323.00" stroke="#000" stroke-width="1.1"/>
<line x1="169.18" y1="320.20" x2="169.18" y2="323.00" stroke="#000" stroke-width="1.1"/>
<line x1="171.21" y1="320.20" x2="171.21" y2="323.00" stroke="#000" stroke-width="1.1"/>
<line x1="172.96" y1="320.20" x2="172.96" y2="323.00" stroke="#000" stroke-width="1.1"/>
<line x1="174.51" y1="320.20" x2="174.51" y2="323.00" stroke="#000" stroke-width="1.1"/>
<line x1="175.90" y1="320.20" x2="175.90" y2="324.80" stroke="#000" stroke-width="1.2"/>
<line x1="185.02" y1="320.20" x2="185.02" y2="323.00" stroke="#000" stroke-width="1.1"/>
<text x="73.90" y="337.40" font-size="10.4" text-anchor="middle" stroke="#111" stroke-width="0.15" textLength="6.9" lengthAdjust="spacingAndGlyphs">0</text>
<g transform="translate(107.20,336.90) scale(1.0602,1)" fill="#111" stroke="#111" stroke-width="0.15"><path transform="translate(0.00,0) scale(0.00518,-0.00518)" d="M515,0H696V1409H530L197,1180V1010L515,1237Z" stroke-width="29.0"/><text x="5.90" y="0" font-size="10.6">0</text></g>
<text x="119.70" y="332.20" font-size="7.3" stroke="#111" stroke-width="0.1">3</text>
<g transform="translate(137.50,336.90) scale(1.0602,1)" fill="#111" stroke="#111" stroke-width="0.15"><path transform="translate(0.00,0) scale(0.00518,-0.00518)" d="M515,0H696V1409H530L197,1180V1010L515,1237Z" stroke-width="29.0"/><text x="5.90" y="0" font-size="10.6">0</text></g>
<text x="150.00" y="332.20" font-size="7.3" stroke="#111" stroke-width="0.1">4</text>
<g transform="translate(167.80,336.90) scale(1.0602,1)" fill="#111" stroke="#111" stroke-width="0.15"><path transform="translate(0.00,0) scale(0.00518,-0.00518)" d="M515,0H696V1409H530L197,1180V1010L515,1237Z" stroke-width="29.0"/><text x="5.90" y="0" font-size="10.6">0</text></g>
<text x="180.30" y="332.20" font-size="7.3" stroke="#111" stroke-width="0.1">5</text>
<g transform="translate(103.80,200.10) scale(1.0268,1)" fill="#111" stroke="#111" stroke-width="0.3"><path transform="translate(0.00,0) scale(0.00596,-0.00596)" d="M515,0H696V1409H530L197,1180V1010L515,1237Z" stroke-width="50.4"/><text x="6.79" y="0" font-size="12.2">5 min</text></g>
<g transform="translate(145.80,224.40) scale(1.1509,1)" fill="#111" stroke="#111" stroke-width="0.3"><text x="0.00" y="0" font-size="12.2">B</text><path transform="translate(8.14,0) scale(0.00596,-0.00596)" d="M515,0H696V1409H530L197,1180V1010L515,1237Z" stroke-width="50.4"/><text x="14.92" y="0" font-size="12.2">042</text></g>
<line x1="24.40" y1="319.20" x2="24.40" y2="212.40" stroke="#000" stroke-width="1.7"/>
<path d="M21.10,214.40 L24.40,203.00 L27.70,214.40 Z" fill="#000"/>
<text transform="translate(17.3,260.80) rotate(-90)" font-size="12.4" text-anchor="middle" textLength="42.4" lengthAdjust="spacingAndGlyphs" fill="#111" stroke="#111" stroke-width="0.3">Cell counts</text>
<clipPath id="clip3"><rect x="224.6" y="208.4" width="133.4" height="111.79999999999998"/></clipPath>
<g clip-path="url(#clip3)">
<path d="M236.00,320.20 C236.68,320.13 238.72,320.30 240.10,319.80 C241.48,319.30 243.05,318.75 244.30,317.20 C245.55,315.65 246.62,313.57 247.60,310.50 C248.58,307.43 249.50,303.28 250.20,298.80 C250.90,294.32 251.25,288.93 251.80,283.60 C252.35,278.27 252.98,272.40 253.50,266.80 C254.02,261.20 254.47,255.60 254.90,250.00 C255.33,244.40 255.68,238.02 256.10,233.20 C256.52,228.38 256.85,222.50 257.40,221.10 C257.95,219.70 258.78,222.78 259.40,224.80 C260.02,226.82 260.53,229.00 261.10,233.20 C261.67,237.40 262.23,244.40 262.80,250.00 C263.37,255.60 263.95,261.20 264.50,266.80 C265.05,272.40 265.47,278.55 266.10,283.60 C266.73,288.65 267.60,293.45 268.30,297.10 C269.00,300.75 269.53,303.55 270.30,305.50 C271.07,307.45 271.77,307.82 272.90,308.80 C274.03,309.78 275.57,310.70 277.10,311.40 C278.63,312.10 280.15,312.45 282.10,313.00 C284.05,313.55 286.28,314.27 288.80,314.70 C291.32,315.13 294.40,315.32 297.20,315.60 C300.00,315.88 302.63,316.07 305.60,316.40 C308.57,316.73 312.00,317.30 315.00,317.60 C318.00,317.90 319.43,317.88 323.60,318.20 C327.77,318.52 334.27,319.17 340.00,319.50 C345.73,319.83 355.00,320.08 358.00,320.20 L358.00,320.20 L236.00,320.20 Z" fill="#7fb4a7" stroke="none"/>
<path d="M255.00,319.20 C256.17,319.20 260.00,319.65 262.00,319.20 C264.00,318.75 265.58,318.37 267.00,316.50 C268.42,314.63 269.47,311.58 270.50,308.00 C271.53,304.42 272.37,300.00 273.20,295.00 C274.03,290.00 274.77,283.83 275.50,278.00 C276.23,272.17 276.92,266.00 277.60,260.00 C278.28,254.00 278.95,247.33 279.60,242.00 C280.25,236.67 280.67,231.70 281.50,228.00 C282.33,224.30 283.72,220.13 284.60,219.80 C285.48,219.47 286.10,223.30 286.80,226.00 C287.50,228.70 288.22,232.00 288.80,236.00 C289.38,240.00 289.83,245.17 290.30,250.00 C290.77,254.83 291.18,260.00 291.60,265.00 C292.02,270.00 292.37,275.50 292.80,280.00 C293.23,284.50 293.77,289.18 294.20,292.00 C294.63,294.82 294.75,294.52 295.40,296.90 C296.05,299.28 296.98,303.83 298.10,306.30 C299.22,308.77 300.75,310.23 302.10,311.70 C303.45,313.17 303.73,314.20 306.20,315.10 C308.67,316.00 312.10,316.53 316.90,317.10 C321.70,317.67 330.32,318.15 335.00,318.50 C339.68,318.85 343.33,319.08 345.00,319.20" fill="none" stroke="#c61f3a" stroke-width="2.0" stroke-linejoin="round"/>
<path d="M255.00,319.20 C256.17,319.20 260.00,319.65 262.00,319.20 C264.00,318.75 265.58,318.37 267.00,316.50 C268.42,314.63 269.50,311.58 270.50,308.00 C271.50,304.42 272.22,300.00 273.00,295.00 C273.78,290.00 274.48,283.83 275.20,278.00 C275.92,272.17 276.62,266.00 277.30,260.00 C277.98,254.00 278.68,247.33 279.30,242.00 C279.92,236.67 280.40,231.93 281.00,228.00 C281.60,224.07 282.15,219.07 282.90,218.40 C283.65,217.73 284.68,221.07 285.50,224.00 C286.32,226.93 287.13,231.67 287.80,236.00 C288.47,240.33 288.98,245.17 289.50,250.00 C290.02,254.83 290.43,260.00 290.90,265.00 C291.37,270.00 291.82,275.50 292.30,280.00 C292.78,284.50 293.28,289.18 293.80,292.00 C294.32,294.82 294.68,294.52 295.40,296.90 C296.12,299.28 296.98,303.83 298.10,306.30 C299.22,308.77 300.75,310.23 302.10,311.70 C303.45,313.17 303.73,314.20 306.20,315.10 C308.67,316.00 312.10,316.53 316.90,317.10 C321.70,317.67 330.32,318.15 335.00,318.50 C339.68,318.85 343.33,319.08 345.00,319.20" fill="none" stroke="#3cb34a" stroke-width="2.0" stroke-linejoin="round"/>
<path d="M240.00,319.20 C241.67,319.20 247.33,319.57 250.00,319.20 C252.67,318.83 254.33,318.20 256.00,317.00 C257.67,315.80 258.83,314.50 260.00,312.00 C261.17,309.50 262.13,305.67 263.00,302.00 C263.87,298.33 264.53,294.50 265.20,290.00 C265.87,285.50 266.43,280.27 267.00,275.00 C267.57,269.73 268.10,263.40 268.60,258.40 C269.10,253.40 269.52,248.40 270.00,245.00 C270.48,241.60 271.08,241.33 271.50,238.00 C271.92,234.67 271.95,228.17 272.50,225.00 C273.05,221.83 274.05,219.17 274.80,219.00 C275.55,218.83 276.30,222.17 277.00,224.00 C277.70,225.83 278.72,228.00 279.00,230.00 C279.28,232.00 278.50,232.67 278.70,236.00 C278.90,239.33 279.65,243.47 280.20,250.00 C280.75,256.53 281.42,268.87 282.00,275.20 C282.58,281.53 283.15,284.63 283.70,288.00 C284.25,291.37 284.47,292.20 285.30,295.40 C286.13,298.60 287.55,304.43 288.70,307.20 C289.85,309.97 290.78,310.78 292.20,312.00 C293.62,313.22 295.37,313.83 297.20,314.50 C299.03,315.17 299.70,315.45 303.20,316.00 C306.70,316.55 313.57,317.27 318.20,317.80 C322.83,318.33 328.87,318.97 331.00,319.20" fill="none" stroke="#134f8a" stroke-width="2.0" stroke-linejoin="round"/>
<path d="M225.00,319.20 C225.83,319.20 227.48,319.20 230.00,319.20 C232.52,319.20 236.10,319.23 240.10,319.20 C244.10,319.17 251.22,319.23 254.00,319.00 C256.78,318.77 255.97,318.47 256.80,317.80 C257.63,317.13 258.33,316.05 259.00,315.00 C259.67,313.95 260.27,312.92 260.80,311.50 C261.33,310.08 261.58,309.75 262.20,306.50 C262.82,303.25 263.85,297.22 264.50,292.00 C265.15,286.78 265.47,280.80 266.10,275.20 C266.73,269.60 267.73,263.43 268.30,258.40 C268.87,253.37 269.02,247.80 269.50,245.00 C269.98,242.20 270.63,245.38 271.20,241.60 C271.77,237.82 272.35,226.22 272.90,222.30 C273.45,218.38 273.95,218.15 274.50,218.10 C275.05,218.05 275.63,220.32 276.20,222.00 C276.77,223.68 277.33,226.33 277.90,228.20 C278.47,230.07 279.03,229.57 279.60,233.20 C280.17,236.83 280.75,244.40 281.30,250.00 C281.85,255.60 282.35,261.20 282.90,266.80 C283.45,272.40 284.08,279.23 284.60,283.60 C285.12,287.97 285.58,290.47 286.00,293.00 C286.42,295.53 286.48,296.43 287.10,298.80 C287.72,301.17 288.72,305.10 289.70,307.20 C290.68,309.30 291.75,310.28 293.00,311.40 C294.25,312.52 295.38,313.07 297.20,313.90 C299.02,314.73 301.73,315.92 303.90,316.40 C306.07,316.88 306.92,316.57 310.20,316.80 C313.48,317.03 319.12,317.42 323.60,317.80 C328.08,318.18 333.73,318.87 337.10,319.10 C340.47,319.33 342.68,319.18 343.80,319.20" fill="none" stroke="#5a2570" stroke-width="2.0" stroke-linejoin="round"/>
<path d="M251.80,319.20 C252.83,319.18 256.30,319.27 258.00,319.10 C259.70,318.93 260.93,318.97 262.00,318.20 C263.07,317.43 263.65,315.62 264.40,314.50 C265.15,313.38 265.87,312.50 266.50,311.50 C267.13,310.50 267.57,309.83 268.20,308.50 C268.83,307.17 269.52,306.25 270.30,303.50 C271.08,300.75 272.12,296.72 272.90,292.00 C273.68,287.28 274.30,280.80 275.00,275.20 C275.70,269.60 276.33,264.00 277.10,258.40 C277.87,252.80 278.90,245.80 279.60,241.60 C280.30,237.40 280.77,235.80 281.30,233.20 C281.83,230.60 282.33,227.53 282.80,226.00 C283.27,224.47 283.65,224.00 284.10,224.00 C284.55,224.00 285.00,224.47 285.50,226.00 C286.00,227.53 286.40,230.60 287.10,233.20 C287.80,235.80 289.13,237.40 289.70,241.60 C290.27,245.80 290.08,252.80 290.50,258.40 C290.92,264.00 291.62,271.02 292.20,275.20 C292.78,279.38 293.58,280.70 294.00,283.50 C294.42,286.30 294.35,289.77 294.70,292.00 C295.05,294.23 295.53,294.73 296.10,296.90 C296.67,299.07 297.32,302.98 298.10,305.00 C298.88,307.02 299.68,308.10 300.80,309.00 C301.92,309.90 303.23,309.72 304.80,310.40 C306.37,311.08 308.18,312.43 310.20,313.10 C312.22,313.77 314.88,314.07 316.90,314.40 C318.92,314.73 320.05,314.77 322.30,315.10 C324.55,315.43 327.93,315.95 330.40,316.40 C332.87,316.85 334.87,317.42 337.10,317.80 C339.33,318.18 340.32,318.47 343.80,318.70 C347.28,318.93 355.63,319.12 358.00,319.20" fill="none" stroke="#f7941e" stroke-width="2.0" stroke-linejoin="round"/>
</g>
<rect x="224.60" y="208.40" width="133.40" height="111.80" fill="none" stroke="#000" stroke-width="1.6"/>
<line x1="222.20" y1="314.85" x2="224.60" y2="314.85" stroke="#000" stroke-width="1.3"/>
<line x1="222.20" y1="309.51" x2="224.60" y2="309.51" stroke="#000" stroke-width="1.3"/>
<line x1="222.20" y1="304.16" x2="224.60" y2="304.16" stroke="#000" stroke-width="1.3"/>
<line x1="220.20" y1="298.82" x2="224.60" y2="298.82" stroke="#000" stroke-width="1.3"/>
<text x="217.80" y="302.22" font-size="10.3" text-anchor="end" stroke="#111" stroke-width="0.15" textLength="12.4" lengthAdjust="spacingAndGlyphs">20</text>
<line x1="222.20" y1="293.47" x2="224.60" y2="293.47" stroke="#000" stroke-width="1.3"/>
<line x1="222.20" y1="288.13" x2="224.60" y2="288.13" stroke="#000" stroke-width="1.3"/>
<line x1="222.20" y1="282.78" x2="224.60" y2="282.78" stroke="#000" stroke-width="1.3"/>
<line x1="220.20" y1="277.44" x2="224.60" y2="277.44" stroke="#000" stroke-width="1.3"/>
<text x="217.80" y="280.84" font-size="10.3" text-anchor="end" stroke="#111" stroke-width="0.15" textLength="12.4" lengthAdjust="spacingAndGlyphs">40</text>
<line x1="222.20" y1="272.09" x2="224.60" y2="272.09" stroke="#000" stroke-width="1.3"/>
<line x1="222.20" y1="266.75" x2="224.60" y2="266.75" stroke="#000" stroke-width="1.3"/>
<line x1="222.20" y1="261.40" x2="224.60" y2="261.40" stroke="#000" stroke-width="1.3"/>
<line x1="220.20" y1="256.06" x2="224.60" y2="256.06" stroke="#000" stroke-width="1.3"/>
<text x="217.80" y="259.46" font-size="10.3" text-anchor="end" stroke="#111" stroke-width="0.15" textLength="12.4" lengthAdjust="spacingAndGlyphs">60</text>
<line x1="222.20" y1="250.71" x2="224.60" y2="250.71" stroke="#000" stroke-width="1.3"/>
<line x1="222.20" y1="245.37" x2="224.60" y2="245.37" stroke="#000" stroke-width="1.3"/>
<line x1="222.20" y1="240.02" x2="224.60" y2="240.02" stroke="#000" stroke-width="1.3"/>
<line x1="220.20" y1="234.68" x2="224.60" y2="234.68" stroke="#000" stroke-width="1.3"/>
<text x="217.80" y="238.08" font-size="10.3" text-anchor="end" stroke="#111" stroke-width="0.15" textLength="12.4" lengthAdjust="spacingAndGlyphs">80</text>
<line x1="222.20" y1="229.33" x2="224.60" y2="229.33" stroke="#000" stroke-width="1.3"/>
<line x1="222.20" y1="223.99" x2="224.60" y2="223.99" stroke="#000" stroke-width="1.3"/>
<line x1="222.20" y1="218.64" x2="224.60" y2="218.64" stroke="#000" stroke-width="1.3"/>
<line x1="220.20" y1="213.30" x2="224.60" y2="213.30" stroke="#000" stroke-width="1.3"/>
<g transform="translate(198.80,216.70) scale(1.1056,1)" fill="#111" stroke="#111" stroke-width="0.15"><path transform="translate(0.00,0) scale(0.00503,-0.00503)" d="M515,0H696V1409H530L197,1180V1010L515,1237Z" stroke-width="29.8"/><text x="5.73" y="0" font-size="10.3">00</text></g>
<line x1="222.20" y1="207.95" x2="224.60" y2="207.95" stroke="#000" stroke-width="1.3"/>
<rect x="231.00" y="320.20" width="22.00" height="2.60" fill="#000"/>
<line x1="231.00" y1="320.20" x2="231.00" y2="324.80" stroke="#000" stroke-width="1.2"/>
<line x1="243.00" y1="320.20" x2="243.00" y2="324.80" stroke="#000" stroke-width="1.2"/>
<line x1="252.50" y1="320.20" x2="252.50" y2="324.80" stroke="#000" stroke-width="1.2"/>
<line x1="260.70" y1="320.20" x2="260.70" y2="323.00" stroke="#000" stroke-width="1.1"/>
<line x1="265.20" y1="320.20" x2="265.20" y2="323.00" stroke="#000" stroke-width="1.1"/>
<line x1="268.70" y1="320.20" x2="268.70" y2="323.00" stroke="#000" stroke-width="1.1"/>
<line x1="271.80" y1="320.20" x2="271.80" y2="323.00" stroke="#000" stroke-width="1.1"/>
<line x1="274.50" y1="320.20" x2="274.50" y2="323.00" stroke="#000" stroke-width="1.1"/>
<line x1="277.00" y1="320.20" x2="277.00" y2="323.00" stroke="#000" stroke-width="1.1"/>
<line x1="279.40" y1="320.20" x2="279.40" y2="323.00" stroke="#000" stroke-width="1.1"/>
<line x1="281.50" y1="320.20" x2="281.50" y2="323.00" stroke="#000" stroke-width="1.1"/>
<line x1="284.30" y1="320.20" x2="284.30" y2="324.80" stroke="#000" stroke-width="1.2"/>
<line x1="293.42" y1="320.20" x2="293.42" y2="323.00" stroke="#000" stroke-width="1.1"/>
<line x1="298.76" y1="320.20" x2="298.76" y2="323.00" stroke="#000" stroke-width="1.1"/>
<line x1="302.54" y1="320.20" x2="302.54" y2="323.00" stroke="#000" stroke-width="1.1"/>
<line x1="305.48" y1="320.20" x2="305.48" y2="323.00" stroke="#000" stroke-width="1.1"/>
<line x1="307.88" y1="320.20" x2="307.88" y2="323.00" stroke="#000" stroke-width="1.1"/>
<line x1="309.91" y1="320.20" x2="309.91" y2="323.00" stroke="#000" stroke-width="1.1"/>
<line x1="311.66" y1="320.20" x2="311.66" y2="323.00" stroke="#000" stroke-width="1.1"/>
<line x1="313.21" y1="320.20" x2="313.21" y2="323.00" stroke="#000" stroke-width="1.1"/>
<line x1="314.60" y1="320.20" x2="314.60" y2="324.80" stroke="#000" stroke-width="1.2"/>
<line x1="323.72" y1="320.20" x2="323.72" y2="323.00" stroke="#000" stroke-width="1.1"/>
<line x1="329.06" y1="320.20" x2="329.06" y2="323.00" stroke="#000" stroke-width="1.1"/>
<line x1="332.84" y1="320.20" x2="332.84" y2="323.00" stroke="#000" stroke-width="1.1"/>
<line x1="335.78" y1="320.20" x2="335.78" y2="323.00" stroke="#000" stroke-width="1.1"/>
<line x1="338.18" y1="320.20" x2="338.18" y2="323.00" stroke="#000" stroke-width="1.1"/>
<line x1="340.21" y1="320.20" x2="340.21" y2="323.00" stroke="#000" stroke-width="1.1"/>
<line x1="341.96" y1="320.20" x2="341.96" y2="323.00" stroke="#000" stroke-width="1.1"/>
<line x1="343.51" y1="320.20" x2="343.51" y2="323.00" stroke="#000" stroke-width="1.1"/>
<line x1="344.90" y1="320.20" x2="344.90" y2="324.80" stroke="#000" stroke-width="1.2"/>
<line x1="354.02" y1="320.20" x2="354.02" y2="323.00" stroke="#000" stroke-width="1.1"/>
<text x="242.90" y="337.40" font-size="10.4" text-anchor="middle" stroke="#111" stroke-width="0.15" textLength="6.9" lengthAdjust="spacingAndGlyphs">0</text>
<g transform="translate(276.20,336.90) scale(1.0602,1)" fill="#111" stroke="#111" stroke-width="0.15"><path transform="translate(0.00,0) scale(0.00518,-0.00518)" d="M515,0H696V1409H530L197,1180V1010L515,1237Z" stroke-width="29.0"/><text x="5.90" y="0" font-size="10.6">0</text></g>
<text x="288.70" y="332.20" font-size="7.3" stroke="#111" stroke-width="0.1">3</text>
<g transform="translate(306.50,336.90) scale(1.0602,1)" fill="#111" stroke="#111" stroke-width="0.15"><path transform="translate(0.00,0) scale(0.00518,-0.00518)" d="M515,0H696V1409H530L197,1180V1010L515,1237Z" stroke-width="29.0"/><text x="5.90" y="0" font-size="10.6">0</text></g>
<text x="319.00" y="332.20" font-size="7.3" stroke="#111" stroke-width="0.1">4</text>
<g transform="translate(336.80,336.90) scale(1.0602,1)" fill="#111" stroke="#111" stroke-width="0.15"><path transform="translate(0.00,0) scale(0.00518,-0.00518)" d="M515,0H696V1409H530L197,1180V1010L515,1237Z" stroke-width="29.0"/><text x="5.90" y="0" font-size="10.6">0</text></g>
<text x="349.30" y="332.20" font-size="7.3" stroke="#111" stroke-width="0.1">5</text>
<text x="291.60" y="200.10" font-size="12.2" text-anchor="middle" stroke="#111" stroke-width="0.3" textLength="42.2" lengthAdjust="spacingAndGlyphs">4 hours</text>
<g transform="translate(314.80,224.80) scale(1.1509,1)" fill="#111" stroke="#111" stroke-width="0.3"><text x="0.00" y="0" font-size="12.2">B</text><path transform="translate(8.14,0) scale(0.00596,-0.00596)" d="M515,0H696V1409H530L197,1180V1010L515,1237Z" stroke-width="50.4"/><text x="14.92" y="0" font-size="12.2">042</text></g>
<line x1="54.40" y1="160.60" x2="351.00" y2="160.60" stroke="#000" stroke-width="1.5"/>
<path d="M349.8,157.20 L361.8,160.60 L349.8,164.00 Z" fill="#000"/>
<text x="186.30" y="179.40" font-size="13.2" text-anchor="start" stroke="#111" stroke-width="0.3" textLength="51.2" lengthAdjust="spacingAndGlyphs">INSR-PE</text>
<line x1="54.40" y1="343.20" x2="351.00" y2="343.20" stroke="#000" stroke-width="1.5"/>
<path d="M349.8,339.80 L361.8,343.20 L349.8,346.60 Z" fill="#000"/>
<g transform="translate(168.20,360.80) scale(1.0011,1)" fill="#111" stroke="#111" stroke-width="0.3"><text x="0.00" y="0" font-size="12.8">IGF</text><path transform="translate(21.33,0) scale(0.00625,-0.00625)" d="M515,0H696V1409H530L197,1180V1010L515,1237Z" stroke-width="48.0"/><text x="28.45" y="0" font-size="12.8">R - BV42</text><path transform="translate(80.38,0) scale(0.00625,-0.00625)" d="M515,0H696V1409H530L197,1180V1010L515,1237Z" stroke-width="48.0"/></g>
<rect x="364.80" y="37.20" width="14.40" height="11.40" fill="#0b6a50"/>
<text x="383.10" y="45.50" font-size="10.0" text-anchor="start" fill="#222" stroke="#222" stroke-width="0.2" textLength="30.75" lengthAdjust="spacingAndGlyphs">Isotype</text>
<rect x="364.80" y="53.10" width="14.40" height="11.40" fill="#c61f3a"/>
<text x="383.10" y="61.50" font-size="10.0" text-anchor="start" fill="#222" stroke="#222" stroke-width="0.2" textLength="32.87" lengthAdjust="spacingAndGlyphs">Starved</text>
<rect x="364.80" y="67.30" width="14.40" height="11.40" fill="#5a2570"/>
<text x="383.10" y="77.40" font-size="10.0" text-anchor="start" fill="#222" stroke="#222" stroke-width="0.2" textLength="27.57" lengthAdjust="spacingAndGlyphs">Insulin</text>
<rect x="364.80" y="83.20" width="14.40" height="11.40" fill="#3cb34a"/>
<text x="383.10" y="92.60" font-size="10.0" text-anchor="start" fill="#222" stroke="#222" stroke-width="0.2" textLength="33.92" lengthAdjust="spacingAndGlyphs">IGFBP7</text>
<rect x="364.80" y="98.80" width="14.40" height="11.40" fill="#f7941e"/>
<text x="383.10" y="108.10" font-size="10.0" text-anchor="start" fill="#222" stroke="#222" stroke-width="0.2" textLength="72.36" lengthAdjust="spacingAndGlyphs">Insulin + IGFBP7</text>
<rect x="364.80" y="114.80" width="14.40" height="11.40" fill="#134f8a"/>
<text x="383.10" y="124.10" font-size="10.0" text-anchor="start" fill="#222" stroke="#222" stroke-width="0.2" textLength="132.78" lengthAdjust="spacingAndGlyphs">anti-IGFBP7 / Insulin + IGFBP7</text>
<rect x="364.80" y="221.50" width="14.40" height="11.40" fill="#0b6a50"/>
<text x="381.80" y="230.00" font-size="10.0" text-anchor="start" fill="#222" stroke="#222" stroke-width="0.2" textLength="30.75" lengthAdjust="spacingAndGlyphs">Isotype</text>
<rect x="364.80" y="237.40" width="14.40" height="11.40" fill="#c61f3a"/>
<text x="381.80" y="245.50" font-size="10.0" text-anchor="start" fill="#222" stroke="#222" stroke-width="0.2" textLength="32.87" lengthAdjust="spacingAndGlyphs">Starved</text>
<rect x="364.80" y="251.60" width="14.40" height="11.40" fill="#5a2570"/>
<text x="381.80" y="261.10" font-size="10.0" text-anchor="start" fill="#222" stroke="#222" stroke-width="0.2" textLength="27.57" lengthAdjust="spacingAndGlyphs">Insulin</text>
<rect x="364.80" y="267.50" width="14.40" height="11.40" fill="#3cb34a"/>
<text x="381.80" y="276.30" font-size="10.0" text-anchor="start" fill="#222" stroke="#222" stroke-width="0.2" textLength="33.92" lengthAdjust="spacingAndGlyphs">IGFBP7</text>
<rect x="364.80" y="283.10" width="14.40" height="11.40" fill="#f7941e"/>
<text x="381.80" y="291.90" font-size="10.0" text-anchor="start" fill="#222" stroke="#222" stroke-width="0.2" textLength="72.36" lengthAdjust="spacingAndGlyphs">Insulin + IGFBP7</text>
<rect x="364.80" y="299.10" width="14.40" height="11.40" fill="#134f8a"/>
<text x="381.80" y="307.90" font-size="10.0" text-anchor="start" fill="#222" stroke="#222" stroke-width="0.2" textLength="132.78" lengthAdjust="spacingAndGlyphs">anti-IGFBP7 / Insulin + IGFBP7</text>
<rect x="341.10" y="394.10" width="14.80" height="11.20" fill="#c61f3a"/>
<text x="359.20" y="402.50" font-size="10.0" text-anchor="start" fill="#222" stroke="#222" stroke-width="0.2" textLength="34.17" lengthAdjust="spacingAndGlyphs">Starved</text>
<rect x="341.10" y="409.20" width="14.80" height="11.20" fill="#134f8a"/>
<text x="359.20" y="419.00" font-size="10.0" text-anchor="start" fill="#222" stroke="#222" stroke-width="0.2" textLength="28.66" lengthAdjust="spacingAndGlyphs">Insulin</text>
<rect x="341.10" y="424.50" width="14.80" height="11.20" fill="#3cb34a"/>
<text x="359.20" y="432.80" font-size="10.0" text-anchor="start" fill="#222" stroke="#222" stroke-width="0.2" textLength="35.26" lengthAdjust="spacingAndGlyphs">IGFBP7</text>
<rect x="341.10" y="439.80" width="14.80" height="11.20" fill="#5a2570"/>
<text x="359.20" y="449.10" font-size="10.0" text-anchor="start" fill="#222" stroke="#222" stroke-width="0.2" textLength="75.22" lengthAdjust="spacingAndGlyphs">Insulin + IGFBP7</text>
<rect x="341.10" y="454.90" width="14.80" height="11.20" fill="#f7941e"/>
<text x="359.20" y="464.70" font-size="10.0" text-anchor="start" fill="#222" stroke="#222" stroke-width="0.2" textLength="138.03" lengthAdjust="spacingAndGlyphs">anti-IGFBP7 / Insulin + IGFBP7</text>
<line x1="73.30" y1="389.20" x2="73.30" y2="510.70" stroke="#000" stroke-width="1.8"/>
<line x1="69.30" y1="510.00" x2="173.50" y2="510.00" stroke="#000" stroke-width="1.5"/>
<line x1="69.30" y1="482.68" x2="73.30" y2="482.68" stroke="#000" stroke-width="1.3"/>
<line x1="69.30" y1="455.35" x2="73.30" y2="455.35" stroke="#000" stroke-width="1.3"/>
<line x1="69.30" y1="428.02" x2="73.30" y2="428.02" stroke="#000" stroke-width="1.3"/>
<line x1="69.30" y1="400.70" x2="73.30" y2="400.70" stroke="#000" stroke-width="1.3"/>
<text x="65.30" y="513.70" font-size="10.4" text-anchor="end" stroke="#111" stroke-width="0.15" textLength="6.0" lengthAdjust="spacingAndGlyphs">0</text>
<text x="65.30" y="486.38" font-size="10.4" text-anchor="end" stroke="#111" stroke-width="0.15" textLength="12.4" lengthAdjust="spacingAndGlyphs">25</text>
<text x="65.30" y="459.05" font-size="10.4" text-anchor="end" stroke="#111" stroke-width="0.15" textLength="12.4" lengthAdjust="spacingAndGlyphs">50</text>
<text x="65.30" y="431.72" font-size="10.4" text-anchor="end" stroke="#111" stroke-width="0.15" textLength="12.4" lengthAdjust="spacingAndGlyphs">75</text>
<g transform="translate(46.70,404.40) scale(1.0719,1)" fill="#111" stroke="#111" stroke-width="0.15"><path transform="translate(0.00,0) scale(0.00508,-0.00508)" d="M515,0H696V1409H530L197,1180V1010L515,1237Z" stroke-width="29.5"/><text x="5.78" y="0" font-size="10.4">00</text></g>
<g transform="translate(103.90,383.00) scale(1.0268,1)" fill="#111" stroke="#111" stroke-width="0.3"><path transform="translate(0.00,0) scale(0.00596,-0.00596)" d="M515,0H696V1409H530L197,1180V1010L515,1237Z" stroke-width="50.4"/><text x="6.79" y="0" font-size="12.2">5 min</text></g>
<line x1="85.90" y1="510.00" x2="85.90" y2="514.20" stroke="#000" stroke-width="1.4"/>
<path d="M79.40,510.00 V400.26 H92.40 V510.00" fill="#fff" stroke="#c61f3a" stroke-width="1.5" stroke-linejoin="miter"/>
<circle cx="82.40" cy="400.26" r="1.9" fill="#c61f3a"/>
<circle cx="85.40" cy="400.37" r="1.9" fill="#c61f3a"/>
<circle cx="88.90" cy="400.26" r="1.9" fill="#c61f3a"/>
<circle cx="84.20" cy="405.51" r="1.9" fill="#c61f3a"/>
<line x1="104.70" y1="510.00" x2="104.70" y2="514.20" stroke="#000" stroke-width="1.4"/>
<path d="M98.20,510.00 V447.04 H111.20 V510.00" fill="#fff" stroke="#134f8a" stroke-width="1.5" stroke-linejoin="miter"/>
<line x1="104.70" y1="447.04" x2="104.70" y2="439.39" stroke="#134f8a" stroke-width="1.5"/>
<line x1="101.50" y1="439.39" x2="107.90" y2="439.39" stroke="#134f8a" stroke-width="1.5"/>
<circle cx="101.90" cy="438.95" r="1.9" fill="#134f8a"/>
<circle cx="106.90" cy="443.11" r="1.9" fill="#134f8a"/>
<circle cx="102.10" cy="455.02" r="1.9" fill="#134f8a"/>
<circle cx="106.60" cy="452.51" r="1.9" fill="#134f8a"/>
<line x1="123.50" y1="510.00" x2="123.50" y2="514.20" stroke="#000" stroke-width="1.4"/>
<path d="M117.00,510.00 V402.67 H130.00 V510.00" fill="#fff" stroke="#3cb34a" stroke-width="1.5" stroke-linejoin="miter"/>
<circle cx="119.50" cy="403.65" r="1.9" fill="#3cb34a"/>
<circle cx="122.00" cy="403.43" r="1.9" fill="#3cb34a"/>
<circle cx="124.70" cy="402.12" r="1.9" fill="#3cb34a"/>
<circle cx="127.70" cy="400.70" r="1.9" fill="#3cb34a"/>
<line x1="142.30" y1="510.00" x2="142.30" y2="514.20" stroke="#000" stroke-width="1.4"/>
<path d="M135.80,510.00 V446.61 H148.80 V510.00" fill="#fff" stroke="#5a2570" stroke-width="1.5" stroke-linejoin="miter"/>
<line x1="142.30" y1="446.61" x2="142.30" y2="442.34" stroke="#5a2570" stroke-width="1.5"/>
<line x1="139.10" y1="442.34" x2="145.50" y2="442.34" stroke="#5a2570" stroke-width="1.5"/>
<circle cx="142.30" cy="440.59" r="1.9" fill="#5a2570"/>
<circle cx="142.30" cy="445.84" r="1.9" fill="#5a2570"/>
<circle cx="139.80" cy="451.42" r="1.9" fill="#5a2570"/>
<circle cx="144.60" cy="450.10" r="1.9" fill="#5a2570"/>
<line x1="161.10" y1="510.00" x2="161.10" y2="514.20" stroke="#000" stroke-width="1.4"/>
<path d="M154.60,510.00 V447.15 H167.60 V510.00" fill="#fff" stroke="#f7941e" stroke-width="1.5" stroke-linejoin="miter"/>
<line x1="161.10" y1="447.15" x2="161.10" y2="442.67" stroke="#f7941e" stroke-width="1.5"/>
<line x1="157.90" y1="442.67" x2="164.30" y2="442.67" stroke="#f7941e" stroke-width="1.5"/>
<circle cx="157.70" cy="442.67" r="1.9" fill="#f7941e"/>
<circle cx="160.70" cy="442.67" r="1.9" fill="#f7941e"/>
<circle cx="163.70" cy="442.67" r="1.9" fill="#f7941e"/>
<circle cx="160.70" cy="447.59" r="1.9" fill="#f7941e"/>
<circle cx="160.70" cy="454.58" r="1.9" fill="#f7941e"/>
<line x1="69.30" y1="510.00" x2="173.50" y2="510.00" stroke="#000" stroke-width="1.6"/>
<circle cx="100.80" cy="433.10" r="1.05" fill="#000"/>
<circle cx="103.50" cy="433.10" r="1.05" fill="#000"/>
<circle cx="106.20" cy="433.10" r="1.05" fill="#000"/>
<circle cx="108.90" cy="433.10" r="1.05" fill="#000"/>
<circle cx="138.40" cy="435.40" r="1.05" fill="#000"/>
<circle cx="141.10" cy="435.40" r="1.05" fill="#000"/>
<circle cx="143.80" cy="435.40" r="1.05" fill="#000"/>
<circle cx="146.50" cy="435.40" r="1.05" fill="#000"/>
<circle cx="157.20" cy="435.60" r="1.05" fill="#000"/>
<circle cx="159.90" cy="435.60" r="1.05" fill="#000"/>
<circle cx="162.60" cy="435.60" r="1.05" fill="#000"/>
<circle cx="165.30" cy="435.60" r="1.05" fill="#000"/>
<line x1="222.50" y1="389.00" x2="222.50" y2="510.50" stroke="#000" stroke-width="1.8"/>
<line x1="218.50" y1="509.80" x2="323.00" y2="509.80" stroke="#000" stroke-width="1.5"/>
<line x1="218.50" y1="482.48" x2="222.50" y2="482.48" stroke="#000" stroke-width="1.3"/>
<line x1="218.50" y1="455.15" x2="222.50" y2="455.15" stroke="#000" stroke-width="1.3"/>
<line x1="218.50" y1="427.83" x2="222.50" y2="427.83" stroke="#000" stroke-width="1.3"/>
<line x1="218.50" y1="400.50" x2="222.50" y2="400.50" stroke="#000" stroke-width="1.3"/>
<text x="214.50" y="513.50" font-size="10.4" text-anchor="end" stroke="#111" stroke-width="0.15" textLength="6.0" lengthAdjust="spacingAndGlyphs">0</text>
<text x="214.50" y="486.18" font-size="10.4" text-anchor="end" stroke="#111" stroke-width="0.15" textLength="12.4" lengthAdjust="spacingAndGlyphs">25</text>
<text x="214.50" y="458.85" font-size="10.4" text-anchor="end" stroke="#111" stroke-width="0.15" textLength="12.4" lengthAdjust="spacingAndGlyphs">50</text>
<text x="214.50" y="431.53" font-size="10.4" text-anchor="end" stroke="#111" stroke-width="0.15" textLength="12.4" lengthAdjust="spacingAndGlyphs">75</text>
<g transform="translate(195.90,404.20) scale(1.0719,1)" fill="#111" stroke="#111" stroke-width="0.15"><path transform="translate(0.00,0) scale(0.00508,-0.00508)" d="M515,0H696V1409H530L197,1180V1010L515,1237Z" stroke-width="29.5"/><text x="5.78" y="0" font-size="10.4">00</text></g>
<text x="274.20" y="383.00" font-size="12.2" text-anchor="middle" stroke="#111" stroke-width="0.3" textLength="42.2" lengthAdjust="spacingAndGlyphs">4 hours</text>
<line x1="235.10" y1="509.80" x2="235.10" y2="514.00" stroke="#000" stroke-width="1.4"/>
<path d="M228.60,509.80 V400.06 H241.60 V509.80" fill="#fff" stroke="#c61f3a" stroke-width="1.5" stroke-linejoin="miter"/>
<circle cx="231.10" cy="400.50" r="1.9" fill="#c61f3a"/>
<circle cx="234.10" cy="401.37" r="1.9" fill="#c61f3a"/>
<circle cx="237.10" cy="400.50" r="1.9" fill="#c61f3a"/>
<circle cx="239.60" cy="400.06" r="1.9" fill="#c61f3a"/>
<line x1="253.90" y1="509.80" x2="253.90" y2="514.00" stroke="#000" stroke-width="1.4"/>
<path d="M247.40,509.80 V444.44 H260.40 V509.80" fill="#fff" stroke="#134f8a" stroke-width="1.5" stroke-linejoin="miter"/>
<line x1="253.90" y1="444.44" x2="253.90" y2="428.48" stroke="#134f8a" stroke-width="1.5"/>
<line x1="250.70" y1="428.48" x2="257.10" y2="428.48" stroke="#134f8a" stroke-width="1.5"/>
<circle cx="253.90" cy="429.46" r="1.9" fill="#134f8a"/>
<circle cx="251.80" cy="442.36" r="1.9" fill="#134f8a"/>
<circle cx="256.60" cy="444.44" r="1.9" fill="#134f8a"/>
<circle cx="253.90" cy="462.47" r="1.9" fill="#134f8a"/>
<line x1="272.70" y1="509.80" x2="272.70" y2="514.00" stroke="#000" stroke-width="1.4"/>
<path d="M266.20,509.80 V400.61 H279.20 V509.80" fill="#fff" stroke="#3cb34a" stroke-width="1.5" stroke-linejoin="miter"/>
<circle cx="269.20" cy="402.14" r="1.9" fill="#3cb34a"/>
<circle cx="271.70" cy="401.59" r="1.9" fill="#3cb34a"/>
<circle cx="274.20" cy="400.50" r="1.9" fill="#3cb34a"/>
<circle cx="276.70" cy="399.95" r="1.9" fill="#3cb34a"/>
<line x1="291.50" y1="509.80" x2="291.50" y2="514.00" stroke="#000" stroke-width="1.4"/>
<path d="M285.00,509.80 V450.23 H298.00 V509.80" fill="#fff" stroke="#5a2570" stroke-width="1.5" stroke-linejoin="miter"/>
<line x1="291.50" y1="450.23" x2="291.50" y2="436.46" stroke="#5a2570" stroke-width="1.5"/>
<line x1="288.30" y1="436.46" x2="294.70" y2="436.46" stroke="#5a2570" stroke-width="1.5"/>
<circle cx="291.50" cy="431.87" r="1.9" fill="#5a2570"/>
<circle cx="291.50" cy="445.97" r="1.9" fill="#5a2570"/>
<circle cx="288.90" cy="462.47" r="1.9" fill="#5a2570"/>
<circle cx="294.10" cy="459.52" r="1.9" fill="#5a2570"/>
<line x1="310.30" y1="509.80" x2="310.30" y2="514.00" stroke="#000" stroke-width="1.4"/>
<path d="M303.80,509.80 V450.56 H316.80 V509.80" fill="#fff" stroke="#f7941e" stroke-width="1.5" stroke-linejoin="miter"/>
<line x1="310.30" y1="450.56" x2="310.30" y2="439.63" stroke="#f7941e" stroke-width="1.5"/>
<line x1="307.10" y1="439.63" x2="313.50" y2="439.63" stroke="#f7941e" stroke-width="1.5"/>
<circle cx="312.20" cy="440.94" r="1.9" fill="#f7941e"/>
<circle cx="308.80" cy="441.49" r="1.9" fill="#f7941e"/>
<circle cx="310.70" cy="454.49" r="1.9" fill="#f7941e"/>
<circle cx="310.70" cy="464.11" r="1.9" fill="#f7941e"/>
<line x1="218.50" y1="509.80" x2="323.00" y2="509.80" stroke="#000" stroke-width="1.6"/>
<circle cx="250.00" cy="424.20" r="1.05" fill="#000"/>
<circle cx="252.70" cy="424.20" r="1.05" fill="#000"/>
<circle cx="255.40" cy="424.20" r="1.05" fill="#000"/>
<circle cx="258.10" cy="424.20" r="1.05" fill="#000"/>
<circle cx="287.60" cy="426.50" r="1.05" fill="#000"/>
<circle cx="290.30" cy="426.50" r="1.05" fill="#000"/>
<circle cx="293.00" cy="426.50" r="1.05" fill="#000"/>
<circle cx="295.70" cy="426.50" r="1.05" fill="#000"/>
<circle cx="306.40" cy="433.30" r="1.05" fill="#000"/>
<circle cx="309.10" cy="433.30" r="1.05" fill="#000"/>
<circle cx="311.80" cy="433.30" r="1.05" fill="#000"/>
<circle cx="314.50" cy="433.30" r="1.05" fill="#000"/>
<line x1="73.20" y1="544.30" x2="73.20" y2="665.90" stroke="#000" stroke-width="1.8"/>
<line x1="69.20" y1="665.20" x2="174.20" y2="665.20" stroke="#000" stroke-width="1.5"/>
<line x1="69.20" y1="637.88" x2="73.20" y2="637.88" stroke="#000" stroke-width="1.3"/>
<line x1="69.20" y1="610.55" x2="73.20" y2="610.55" stroke="#000" stroke-width="1.3"/>
<line x1="69.20" y1="583.23" x2="73.20" y2="583.23" stroke="#000" stroke-width="1.3"/>
<line x1="69.20" y1="555.90" x2="73.20" y2="555.90" stroke="#000" stroke-width="1.3"/>
<text x="65.20" y="668.90" font-size="10.4" text-anchor="end" stroke="#111" stroke-width="0.15" textLength="6.0" lengthAdjust="spacingAndGlyphs">0</text>
<text x="65.20" y="641.58" font-size="10.4" text-anchor="end" stroke="#111" stroke-width="0.15" textLength="12.4" lengthAdjust="spacingAndGlyphs">25</text>
<text x="65.20" y="614.25" font-size="10.4" text-anchor="end" stroke="#111" stroke-width="0.15" textLength="12.4" lengthAdjust="spacingAndGlyphs">50</text>
<text x="65.20" y="586.93" font-size="10.4" text-anchor="end" stroke="#111" stroke-width="0.15" textLength="12.4" lengthAdjust="spacingAndGlyphs">75</text>
<g transform="translate(46.60,559.60) scale(1.0719,1)" fill="#111" stroke="#111" stroke-width="0.15"><path transform="translate(0.00,0) scale(0.00508,-0.00508)" d="M515,0H696V1409H530L197,1180V1010L515,1237Z" stroke-width="29.5"/><text x="5.78" y="0" font-size="10.4">00</text></g>
<g transform="translate(103.90,541.50) scale(1.0268,1)" fill="#111" stroke="#111" stroke-width="0.3"><path transform="translate(0.00,0) scale(0.00596,-0.00596)" d="M515,0H696V1409H530L197,1180V1010L515,1237Z" stroke-width="50.4"/><text x="6.79" y="0" font-size="12.2">5 min</text></g>
<line x1="85.80" y1="665.20" x2="85.80" y2="669.40" stroke="#000" stroke-width="1.4"/>
<path d="M79.30,665.20 V558.52 H92.30 V665.20" fill="#fff" stroke="#c61f3a" stroke-width="1.5" stroke-linejoin="miter"/>
<line x1="85.80" y1="558.52" x2="85.80" y2="552.07" stroke="#c61f3a" stroke-width="1.5"/>
<line x1="82.60" y1="552.07" x2="89.00" y2="552.07" stroke="#c61f3a" stroke-width="1.5"/>
<circle cx="81.50" cy="554.92" r="1.9" fill="#c61f3a"/>
<circle cx="85.60" cy="554.92" r="1.9" fill="#c61f3a"/>
<circle cx="89.50" cy="554.92" r="1.9" fill="#c61f3a"/>
<circle cx="85.40" cy="567.05" r="1.9" fill="#c61f3a"/>
<line x1="104.60" y1="665.20" x2="104.60" y2="669.40" stroke="#000" stroke-width="1.4"/>
<path d="M98.10,665.20 V599.73 H111.10 V665.20" fill="#fff" stroke="#134f8a" stroke-width="1.5" stroke-linejoin="miter"/>
<line x1="104.60" y1="599.73" x2="104.60" y2="593.06" stroke="#134f8a" stroke-width="1.5"/>
<line x1="101.40" y1="593.06" x2="107.80" y2="593.06" stroke="#134f8a" stroke-width="1.5"/>
<circle cx="104.60" cy="590.77" r="1.9" fill="#134f8a"/>
<circle cx="102.30" cy="599.73" r="1.9" fill="#134f8a"/>
<circle cx="107.40" cy="600.17" r="1.9" fill="#134f8a"/>
<circle cx="104.60" cy="607.38" r="1.9" fill="#134f8a"/>
<line x1="123.40" y1="665.20" x2="123.40" y2="669.40" stroke="#000" stroke-width="1.4"/>
<path d="M116.90,665.20 V566.28 H129.90 V665.20" fill="#fff" stroke="#3cb34a" stroke-width="1.5" stroke-linejoin="miter"/>
<line x1="123.40" y1="566.28" x2="123.40" y2="563.55" stroke="#3cb34a" stroke-width="1.5"/>
<line x1="120.20" y1="563.55" x2="126.60" y2="563.55" stroke="#3cb34a" stroke-width="1.5"/>
<circle cx="123.70" cy="561.26" r="1.9" fill="#3cb34a"/>
<circle cx="119.10" cy="566.28" r="1.9" fill="#3cb34a"/>
<circle cx="123.70" cy="567.38" r="1.9" fill="#3cb34a"/>
<circle cx="128.20" cy="566.28" r="1.9" fill="#3cb34a"/>
<circle cx="123.70" cy="569.02" r="1.9" fill="#3cb34a"/>
<line x1="142.20" y1="665.20" x2="142.20" y2="669.40" stroke="#000" stroke-width="1.4"/>
<path d="M135.70,665.20 V564.53 H148.70 V665.20" fill="#fff" stroke="#5a2570" stroke-width="1.5" stroke-linejoin="miter"/>
<line x1="142.20" y1="564.53" x2="142.20" y2="557.54" stroke="#5a2570" stroke-width="1.5"/>
<line x1="139.00" y1="557.54" x2="145.40" y2="557.54" stroke="#5a2570" stroke-width="1.5"/>
<circle cx="141.90" cy="555.57" r="1.9" fill="#5a2570"/>
<circle cx="140.40" cy="563.22" r="1.9" fill="#5a2570"/>
<circle cx="144.60" cy="566.17" r="1.9" fill="#5a2570"/>
<circle cx="142.30" cy="574.26" r="1.9" fill="#5a2570"/>
<line x1="161.00" y1="665.20" x2="161.00" y2="669.40" stroke="#000" stroke-width="1.4"/>
<path d="M154.50,665.20 V600.28 H167.50 V665.20" fill="#fff" stroke="#f7941e" stroke-width="1.5" stroke-linejoin="miter"/>
<line x1="161.00" y1="600.28" x2="161.00" y2="593.83" stroke="#f7941e" stroke-width="1.5"/>
<line x1="157.80" y1="593.83" x2="164.20" y2="593.83" stroke="#f7941e" stroke-width="1.5"/>
<circle cx="161.00" cy="591.53" r="1.9" fill="#f7941e"/>
<circle cx="158.40" cy="604.98" r="1.9" fill="#f7941e"/>
<circle cx="163.60" cy="603.88" r="1.9" fill="#f7941e"/>
<circle cx="161.00" cy="600.28" r="1.9" fill="#f7941e"/>
<line x1="69.20" y1="665.20" x2="174.20" y2="665.20" stroke="#000" stroke-width="1.6"/>
<circle cx="100.70" cy="586.50" r="1.05" fill="#000"/>
<circle cx="103.40" cy="586.50" r="1.05" fill="#000"/>
<circle cx="106.10" cy="586.50" r="1.05" fill="#000"/>
<circle cx="108.80" cy="586.50" r="1.05" fill="#000"/>
<circle cx="157.10" cy="587.40" r="1.05" fill="#000"/>
<circle cx="159.80" cy="587.40" r="1.05" fill="#000"/>
<circle cx="162.50" cy="587.40" r="1.05" fill="#000"/>
<circle cx="165.20" cy="587.40" r="1.05" fill="#000"/>
<line x1="222.50" y1="544.30" x2="222.50" y2="665.90" stroke="#000" stroke-width="1.8"/>
<line x1="218.50" y1="665.20" x2="324.00" y2="665.20" stroke="#000" stroke-width="1.5"/>
<line x1="218.50" y1="637.88" x2="222.50" y2="637.88" stroke="#000" stroke-width="1.3"/>
<line x1="218.50" y1="610.55" x2="222.50" y2="610.55" stroke="#000" stroke-width="1.3"/>
<line x1="218.50" y1="583.23" x2="222.50" y2="583.23" stroke="#000" stroke-width="1.3"/>
<line x1="218.50" y1="555.90" x2="222.50" y2="555.90" stroke="#000" stroke-width="1.3"/>
<text x="214.50" y="668.90" font-size="10.4" text-anchor="end" stroke="#111" stroke-width="0.15" textLength="6.0" lengthAdjust="spacingAndGlyphs">0</text>
<text x="214.50" y="641.58" font-size="10.4" text-anchor="end" stroke="#111" stroke-width="0.15" textLength="12.4" lengthAdjust="spacingAndGlyphs">25</text>
<text x="214.50" y="614.25" font-size="10.4" text-anchor="end" stroke="#111" stroke-width="0.15" textLength="12.4" lengthAdjust="spacingAndGlyphs">50</text>
<text x="214.50" y="586.93" font-size="10.4" text-anchor="end" stroke="#111" stroke-width="0.15" textLength="12.4" lengthAdjust="spacingAndGlyphs">75</text>
<g transform="translate(195.90,559.60) scale(1.0719,1)" fill="#111" stroke="#111" stroke-width="0.15"><path transform="translate(0.00,0) scale(0.00508,-0.00508)" d="M515,0H696V1409H530L197,1180V1010L515,1237Z" stroke-width="29.5"/><text x="5.78" y="0" font-size="10.4">00</text></g>
<text x="274.60" y="541.50" font-size="12.2" text-anchor="middle" stroke="#111" stroke-width="0.3" textLength="42.2" lengthAdjust="spacingAndGlyphs">4 hours</text>
<line x1="235.10" y1="665.20" x2="235.10" y2="669.40" stroke="#000" stroke-width="1.4"/>
<path d="M228.60,665.20 V563.77 H241.60 V665.20" fill="#fff" stroke="#c61f3a" stroke-width="1.5" stroke-linejoin="miter"/>
<line x1="235.10" y1="563.77" x2="235.10" y2="557.54" stroke="#c61f3a" stroke-width="1.5"/>
<line x1="231.90" y1="557.54" x2="238.30" y2="557.54" stroke="#c61f3a" stroke-width="1.5"/>
<circle cx="231.60" cy="560.05" r="1.9" fill="#c61f3a"/>
<circle cx="238.90" cy="559.51" r="1.9" fill="#c61f3a"/>
<circle cx="235.10" cy="563.33" r="1.9" fill="#c61f3a"/>
<circle cx="235.10" cy="574.26" r="1.9" fill="#c61f3a"/>
<line x1="253.90" y1="665.20" x2="253.90" y2="669.40" stroke="#000" stroke-width="1.4"/>
<path d="M247.40,665.20 V603.01 H260.40 V665.20" fill="#fff" stroke="#134f8a" stroke-width="1.5" stroke-linejoin="miter"/>
<line x1="253.90" y1="603.01" x2="253.90" y2="596.45" stroke="#134f8a" stroke-width="1.5"/>
<line x1="250.70" y1="596.45" x2="257.10" y2="596.45" stroke="#134f8a" stroke-width="1.5"/>
<circle cx="251.80" cy="595.36" r="1.9" fill="#134f8a"/>
<circle cx="255.70" cy="598.75" r="1.9" fill="#134f8a"/>
<circle cx="251.30" cy="608.04" r="1.9" fill="#134f8a"/>
<circle cx="256.60" cy="607.60" r="1.9" fill="#134f8a"/>
<line x1="272.70" y1="665.20" x2="272.70" y2="669.40" stroke="#000" stroke-width="1.4"/>
<path d="M266.20,665.20 V564.64 H279.20 V665.20" fill="#fff" stroke="#3cb34a" stroke-width="1.5" stroke-linejoin="miter"/>
<line x1="272.70" y1="564.64" x2="272.70" y2="557.98" stroke="#3cb34a" stroke-width="1.5"/>
<line x1="269.50" y1="557.98" x2="275.90" y2="557.98" stroke="#3cb34a" stroke-width="1.5"/>
<circle cx="270.50" cy="557.98" r="1.9" fill="#3cb34a"/>
<circle cx="274.90" cy="560.82" r="1.9" fill="#3cb34a"/>
<circle cx="270.50" cy="570.76" r="1.9" fill="#3cb34a"/>
<circle cx="275.50" cy="570.33" r="1.9" fill="#3cb34a"/>
<line x1="291.50" y1="665.20" x2="291.50" y2="669.40" stroke="#000" stroke-width="1.4"/>
<path d="M285.00,665.20 V556.23 H298.00 V665.20" fill="#fff" stroke="#5a2570" stroke-width="1.5" stroke-linejoin="miter"/>
<circle cx="287.00" cy="556.12" r="1.9" fill="#5a2570"/>
<circle cx="290.00" cy="556.12" r="1.9" fill="#5a2570"/>
<circle cx="293.00" cy="556.12" r="1.9" fill="#5a2570"/>
<circle cx="296.00" cy="556.12" r="1.9" fill="#5a2570"/>
<line x1="310.30" y1="665.20" x2="310.30" y2="669.40" stroke="#000" stroke-width="1.4"/>
<path d="M303.80,665.20 V600.82 H316.80 V665.20" fill="#fff" stroke="#f7941e" stroke-width="1.5" stroke-linejoin="miter"/>
<line x1="310.30" y1="600.82" x2="310.30" y2="591.75" stroke="#f7941e" stroke-width="1.5"/>
<line x1="307.10" y1="591.75" x2="313.50" y2="591.75" stroke="#f7941e" stroke-width="1.5"/>
<circle cx="307.60" cy="594.59" r="1.9" fill="#f7941e"/>
<circle cx="313.40" cy="592.08" r="1.9" fill="#f7941e"/>
<circle cx="310.10" cy="605.63" r="1.9" fill="#f7941e"/>
<circle cx="310.10" cy="611.97" r="1.9" fill="#f7941e"/>
<line x1="218.50" y1="665.20" x2="324.00" y2="665.20" stroke="#000" stroke-width="1.6"/>
<circle cx="250.00" cy="589.20" r="1.05" fill="#000"/>
<circle cx="252.70" cy="589.20" r="1.05" fill="#000"/>
<circle cx="255.40" cy="589.20" r="1.05" fill="#000"/>
<circle cx="258.10" cy="589.20" r="1.05" fill="#000"/>
<circle cx="306.40" cy="585.40" r="1.05" fill="#000"/>
<circle cx="309.10" cy="585.40" r="1.05" fill="#000"/>
<circle cx="311.80" cy="585.40" r="1.05" fill="#000"/>
<circle cx="314.50" cy="585.40" r="1.05" fill="#000"/>
<g transform="translate(26.0,449.75) rotate(-90)">
<text x="0.00" y="0.00" font-size="12" text-anchor="middle" stroke="#111" stroke-width="0.35" textLength="81.9" lengthAdjust="spacingAndGlyphs">INSR expression (%)</text>
</g>
<text transform="translate(41.1,449.65) rotate(-90)" font-size="12" text-anchor="middle" textLength="47.7" lengthAdjust="spacingAndGlyphs" fill="#111" stroke="#111" stroke-width="0.35">primary ALL</text>
<g transform="translate(26.0,594.35) rotate(-90)">
<g transform="translate(-43.15,0.00) scale(0.7270,1)" fill="#111" stroke="#111" stroke-width="0.35"><text x="0.00" y="0" font-size="12">IGF</text><path transform="translate(20.00,0) scale(0.00586,-0.00586)" d="M515,0H696V1409H530L197,1180V1010L515,1237Z" stroke-width="59.7"/><text x="26.67" y="0" font-size="12">R expression (%)</text></g>
</g>
<text transform="translate(41.1,594.15) rotate(-90)" font-size="12" text-anchor="middle" textLength="47.3" lengthAdjust="spacingAndGlyphs" fill="#111" stroke="#111" stroke-width="0.35">primary ALL</text>
</svg>
</body></html>
